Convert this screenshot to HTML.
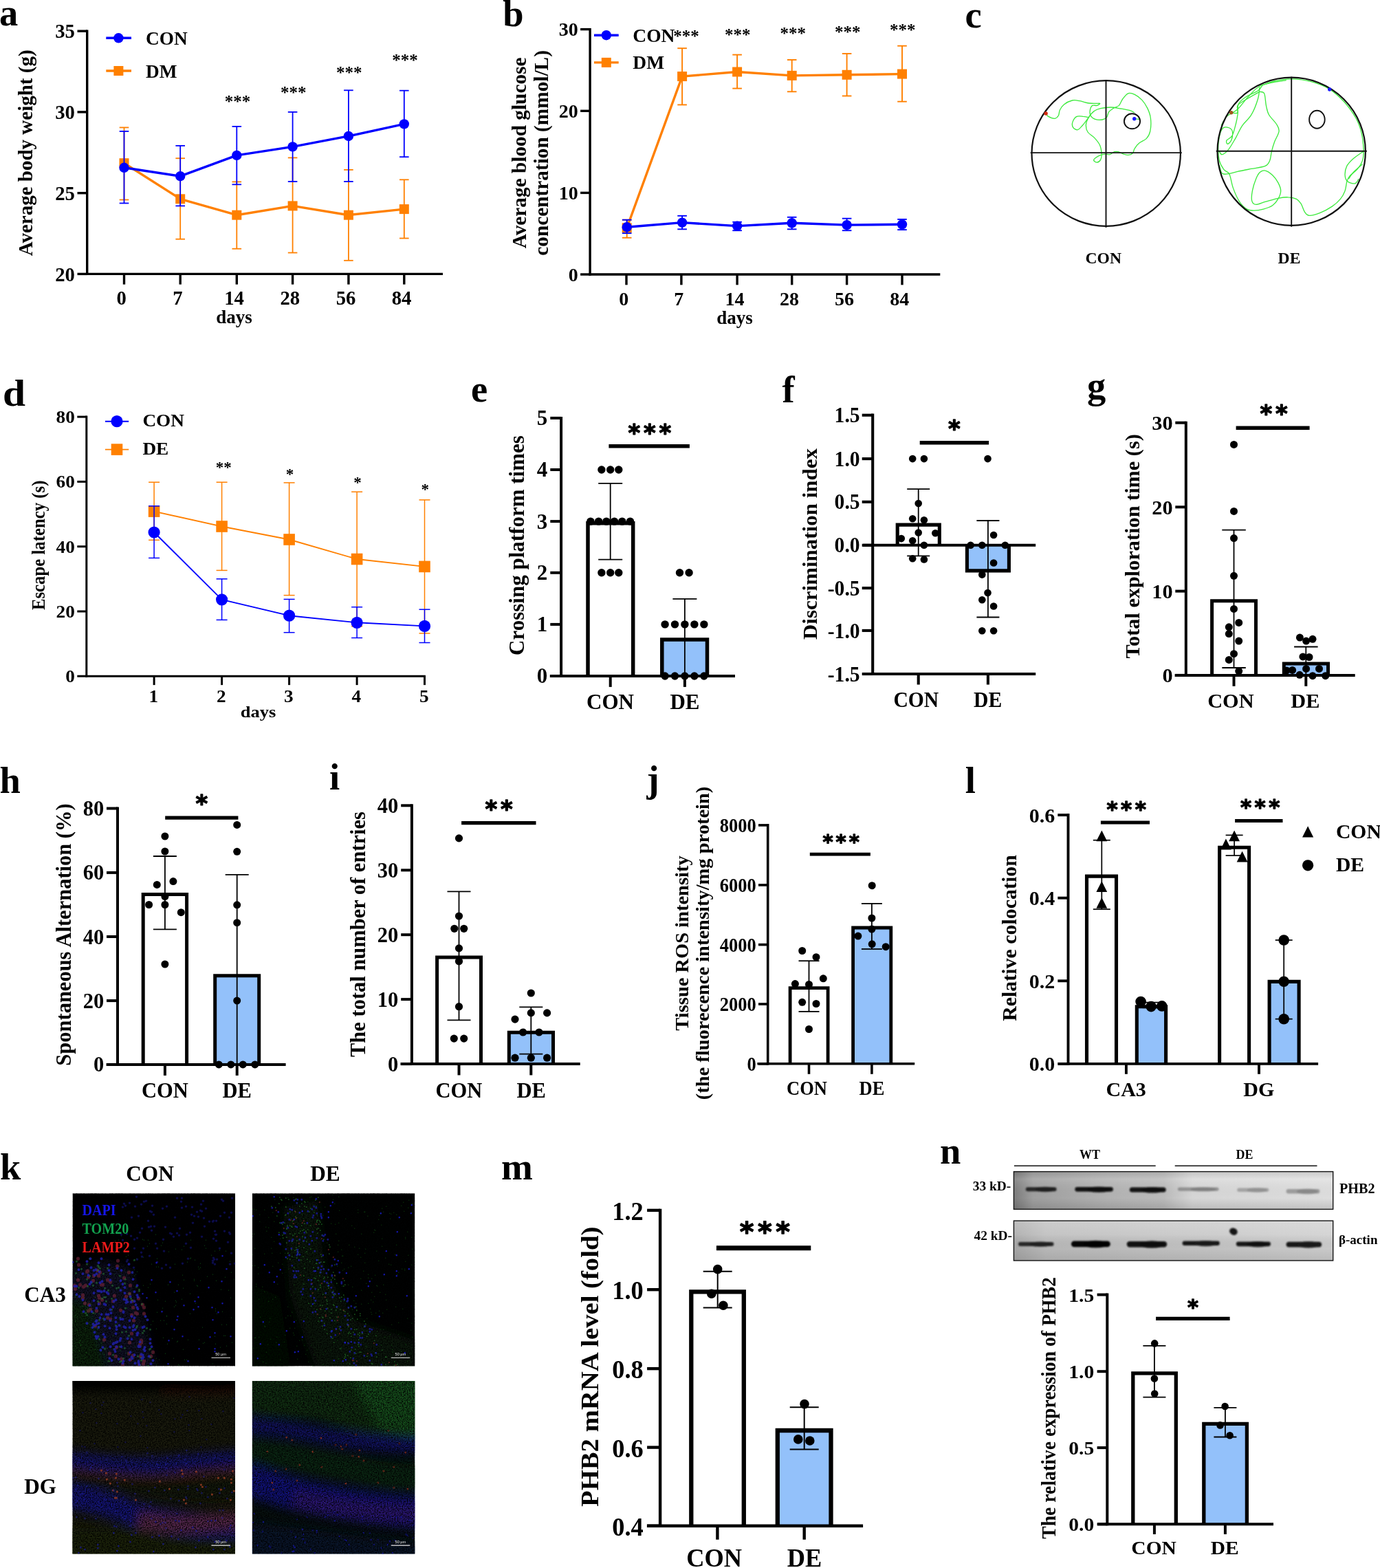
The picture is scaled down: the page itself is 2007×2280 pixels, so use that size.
<!DOCTYPE html>
<html lang="en">
<head>
<meta charset="utf-8">
<title>Figure: diabetic encephalopathy mouse model and PHB2 expression</title>
<style>
html,body{margin:0;padding:0;background:#fff;}
body{width:2007px;height:2280px;overflow:hidden;}
svg{display:block;}
svg text{font-family:"Liberation Serif","DejaVu Serif",serif;font-weight:700;fill:#000;}
</style>
</head>
<body>
<svg width="2007" height="2280" viewBox="0 0 2007 2280" role="img" aria-label="Multi-panel scientific figure">
<defs>
<clipPath id="ck"><rect x="0" y="0" width="236.6" height="251.3"/></clipPath>
<filter id="b8" x="-20%" y="-20%" width="140%" height="140%"><feGaussianBlur stdDeviation="7"/></filter>
<filter id="grain" x="0" y="0" width="100%" height="100%" color-interpolation-filters="sRGB"><feTurbulence type="fractalNoise" baseFrequency="0.55" numOctaves="2" seed="4" result="n"/><feColorMatrix in="n" type="matrix" values="0 0 0 0 0  0 0 0 0 0  0 0 0 0 0  2.2 0 0 0 -0.75"/><feComposite operator="in" in2="SourceGraphic"/></filter>
<filter id="b05" x="-5%" y="-5%" width="110%" height="110%"><feGaussianBlur stdDeviation="0.65"/></filter>
<filter id="b2" x="-10%" y="-50%" width="120%" height="200%"><feGaussianBlur stdDeviation="1.3"/></filter>
<linearGradient id="gb1" x1="0" y1="0" x2="1" y2="0"><stop offset="0" stop-color="#7e7e7e"/><stop offset="0.06" stop-color="#a2a2a2"/><stop offset="0.3" stop-color="#b6b6b6"/><stop offset="0.47" stop-color="#bebebe"/><stop offset="0.56" stop-color="#dadada"/><stop offset="1" stop-color="#e2e2e2"/></linearGradient>
<linearGradient id="gv1" x1="0" y1="0" x2="0" y2="1"><stop offset="0" stop-color="#000" stop-opacity="0.10"/><stop offset="0.2" stop-color="#fff" stop-opacity="0.10"/><stop offset="0.7" stop-color="#000" stop-opacity="0.02"/><stop offset="1" stop-color="#000" stop-opacity="0.14"/></linearGradient>
<linearGradient id="gv2" x1="0" y1="0" x2="0" y2="1"><stop offset="0" stop-color="#fff" stop-opacity="0.25"/><stop offset="0.35" stop-color="#fff" stop-opacity="0.12"/><stop offset="0.7" stop-color="#000" stop-opacity="0.03"/><stop offset="1" stop-color="#000" stop-opacity="0.10"/></linearGradient>
<linearGradient id="gb2" x1="0" y1="0" x2="1" y2="0"><stop offset="0" stop-color="#a8a8a8"/><stop offset="0.1" stop-color="#bcbcbc"/><stop offset="0.5" stop-color="#c4c4c4"/><stop offset="1" stop-color="#cfcfcf"/></linearGradient>
</defs>
<rect x="0" y="0" width="2007" height="2280" fill="#fff"/>

<g><!-- a -->
<text x="-0.9" y="36.5" font-size="54.5">a</text>
<text x="46.7" y="222.4" text-anchor="middle" font-size="29" transform="rotate(-90 46.7 222.4)">Average body weight (g)</text>
<line x1="126.7" y1="43.5" x2="126.7" y2="400.1" stroke="#000" stroke-width="3.4"/>
<line x1="112.5" y1="45.2" x2="126.7" y2="45.2" stroke="#000" stroke-width="3.4"/>
<text x="108.9" y="55.4" text-anchor="end" font-size="28.7">35</text>
<line x1="112.5" y1="162.9" x2="126.7" y2="162.9" stroke="#000" stroke-width="3.4"/>
<text x="108.9" y="173.1" text-anchor="end" font-size="28.7">30</text>
<line x1="112.5" y1="280.7" x2="126.7" y2="280.7" stroke="#000" stroke-width="3.4"/>
<text x="108.9" y="290.9" text-anchor="end" font-size="28.7">25</text>
<line x1="112.5" y1="398.4" x2="126.7" y2="398.4" stroke="#000" stroke-width="3.4"/>
<text x="108.9" y="408.6" text-anchor="end" font-size="28.7">20</text>
<line x1="125" y1="398.4" x2="644" y2="398.4" stroke="#000" stroke-width="3.4"/>
<line x1="180.5" y1="398.4" x2="180.5" y2="413.6" stroke="#000" stroke-width="3.4"/>
<text x="176.7" y="443.4" text-anchor="middle" font-size="28.7">0</text>
<line x1="262.2" y1="398.4" x2="262.2" y2="413.6" stroke="#000" stroke-width="3.4"/>
<text x="258.4" y="443.4" text-anchor="middle" font-size="28.7">7</text>
<line x1="344.3" y1="398.4" x2="344.3" y2="413.6" stroke="#000" stroke-width="3.4"/>
<text x="340.5" y="443.4" text-anchor="middle" font-size="28.7">14</text>
<line x1="425.6" y1="398.4" x2="425.6" y2="413.6" stroke="#000" stroke-width="3.4"/>
<text x="421.8" y="443.4" text-anchor="middle" font-size="28.7">28</text>
<line x1="506.9" y1="398.4" x2="506.9" y2="413.6" stroke="#000" stroke-width="3.4"/>
<text x="503.1" y="443.4" text-anchor="middle" font-size="28.7">56</text>
<line x1="587.8" y1="398.4" x2="587.8" y2="413.6" stroke="#000" stroke-width="3.4"/>
<text x="584" y="443.4" text-anchor="middle" font-size="28.7">84</text>
<text x="340.5" y="470.2" text-anchor="middle" font-size="27">days</text>
<line x1="180.5" y1="185.4" x2="180.5" y2="290.5" stroke="#ff8000" stroke-width="1.8"/>
<line x1="173.7" y1="185.4" x2="187.3" y2="185.4" stroke="#ff8000" stroke-width="1.8"/>
<line x1="173.7" y1="290.5" x2="187.3" y2="290.5" stroke="#ff8000" stroke-width="1.8"/>
<line x1="262.2" y1="230.2" x2="262.2" y2="347.7" stroke="#ff8000" stroke-width="1.8"/>
<line x1="255.4" y1="230.2" x2="269" y2="230.2" stroke="#ff8000" stroke-width="1.8"/>
<line x1="255.4" y1="347.7" x2="269" y2="347.7" stroke="#ff8000" stroke-width="1.8"/>
<line x1="344.3" y1="264.4" x2="344.3" y2="361.7" stroke="#ff8000" stroke-width="1.8"/>
<line x1="337.5" y1="264.4" x2="351.1" y2="264.4" stroke="#ff8000" stroke-width="1.8"/>
<line x1="337.5" y1="361.7" x2="351.1" y2="361.7" stroke="#ff8000" stroke-width="1.8"/>
<line x1="425.6" y1="229.4" x2="425.6" y2="367.5" stroke="#ff8000" stroke-width="1.8"/>
<line x1="418.8" y1="229.4" x2="432.4" y2="229.4" stroke="#ff8000" stroke-width="1.8"/>
<line x1="418.8" y1="367.5" x2="432.4" y2="367.5" stroke="#ff8000" stroke-width="1.8"/>
<line x1="506.9" y1="246.9" x2="506.9" y2="378.8" stroke="#ff8000" stroke-width="1.8"/>
<line x1="500.1" y1="246.9" x2="513.7" y2="246.9" stroke="#ff8000" stroke-width="1.8"/>
<line x1="500.1" y1="378.8" x2="513.7" y2="378.8" stroke="#ff8000" stroke-width="1.8"/>
<line x1="587.8" y1="261.3" x2="587.8" y2="346.5" stroke="#ff8000" stroke-width="1.8"/>
<line x1="581" y1="261.3" x2="594.6" y2="261.3" stroke="#ff8000" stroke-width="1.8"/>
<line x1="581" y1="346.5" x2="594.6" y2="346.5" stroke="#ff8000" stroke-width="1.8"/>
<polyline fill="none" stroke="#ff8000" stroke-width="3.4" stroke-linejoin="round" points="180.5,237.2 262.2,289.3 344.3,312.7 425.6,299.4 506.9,312.7 587.8,304.1"/>
<rect x="173.5" y="230.2" width="14" height="14" fill="#ff8000"/>
<rect x="255.2" y="282.3" width="14" height="14" fill="#ff8000"/>
<rect x="337.3" y="305.7" width="14" height="14" fill="#ff8000"/>
<rect x="418.6" y="292.4" width="14" height="14" fill="#ff8000"/>
<rect x="499.9" y="305.7" width="14" height="14" fill="#ff8000"/>
<rect x="580.8" y="297.1" width="14" height="14" fill="#ff8000"/>
<line x1="180.5" y1="190.9" x2="180.5" y2="295.5" stroke="#0000fe" stroke-width="1.8"/>
<line x1="173.7" y1="190.9" x2="187.3" y2="190.9" stroke="#0000fe" stroke-width="1.8"/>
<line x1="173.7" y1="295.5" x2="187.3" y2="295.5" stroke="#0000fe" stroke-width="1.8"/>
<line x1="262.2" y1="211.9" x2="262.2" y2="299.4" stroke="#0000fe" stroke-width="1.8"/>
<line x1="255.4" y1="211.9" x2="269" y2="211.9" stroke="#0000fe" stroke-width="1.8"/>
<line x1="255.4" y1="299.4" x2="269" y2="299.4" stroke="#0000fe" stroke-width="1.8"/>
<line x1="344.3" y1="183.9" x2="344.3" y2="268.3" stroke="#0000fe" stroke-width="1.8"/>
<line x1="337.5" y1="183.9" x2="351.1" y2="183.9" stroke="#0000fe" stroke-width="1.8"/>
<line x1="337.5" y1="268.3" x2="351.1" y2="268.3" stroke="#0000fe" stroke-width="1.8"/>
<line x1="425.6" y1="162.9" x2="425.6" y2="264" stroke="#0000fe" stroke-width="1.8"/>
<line x1="418.8" y1="162.9" x2="432.4" y2="162.9" stroke="#0000fe" stroke-width="1.8"/>
<line x1="418.8" y1="264" x2="432.4" y2="264" stroke="#0000fe" stroke-width="1.8"/>
<line x1="506.9" y1="131.3" x2="506.9" y2="264" stroke="#0000fe" stroke-width="1.8"/>
<line x1="500.1" y1="131.3" x2="513.7" y2="131.3" stroke="#0000fe" stroke-width="1.8"/>
<line x1="500.1" y1="264" x2="513.7" y2="264" stroke="#0000fe" stroke-width="1.8"/>
<line x1="587.8" y1="131.7" x2="587.8" y2="228.2" stroke="#0000fe" stroke-width="1.8"/>
<line x1="581" y1="131.7" x2="594.6" y2="131.7" stroke="#0000fe" stroke-width="1.8"/>
<line x1="581" y1="228.2" x2="594.6" y2="228.2" stroke="#0000fe" stroke-width="1.8"/>
<polyline fill="none" stroke="#0000fe" stroke-width="3.4" stroke-linejoin="round" points="180.5,243.8 262.2,256.2 344.3,225.9 425.6,213.4 506.9,197.9 587.8,180.4"/>
<circle cx="180.5" cy="243.8" r="7.2" fill="#0000fe"/>
<circle cx="262.2" cy="256.2" r="7.2" fill="#0000fe"/>
<circle cx="344.3" cy="225.9" r="7.2" fill="#0000fe"/>
<circle cx="425.6" cy="213.4" r="7.2" fill="#0000fe"/>
<circle cx="506.9" cy="197.9" r="7.2" fill="#0000fe"/>
<circle cx="587.8" cy="180.4" r="7.2" fill="#0000fe"/>
<line x1="154.3" y1="55.3" x2="191" y2="55.3" stroke="#0000fe" stroke-width="3.4"/>
<circle cx="172.4" cy="55.3" r="7.2" fill="#0000fe"/>
<text x="212" y="65.2" font-size="27.3">CON</text>
<line x1="154.3" y1="103" x2="191" y2="103" stroke="#ff8000" stroke-width="3.4"/>
<rect x="165.4" y="96" width="14" height="14" fill="#ff8000"/>
<text x="212" y="113.2" font-size="27.3">DM</text>
<text x="345.4" y="156.2" text-anchor="middle" font-size="25" font-weight="400">***</text>
<text x="426.8" y="143.4" text-anchor="middle" font-size="25" font-weight="400">***</text>
<text x="507.7" y="114.2" text-anchor="middle" font-size="25" font-weight="400">***</text>
<text x="589" y="95.5" text-anchor="middle" font-size="25" font-weight="400">***</text>
</g>
<g><!-- b -->
<text x="731.3" y="37.5" font-size="54.5">b</text>
<text x="765.4" y="222.4" text-anchor="middle" font-size="29.3" transform="rotate(-90 765.4 222.4)">Average blood glucose</text>
<text x="797.3" y="222.4" text-anchor="middle" font-size="29.3" transform="rotate(-90 797.3 222.4)">concentration (mmol/L)</text>
<line x1="858.1" y1="40.9" x2="858.1" y2="400.7" stroke="#000" stroke-width="3.4"/>
<line x1="844.1" y1="42.6" x2="858.1" y2="42.6" stroke="#000" stroke-width="3.4"/>
<text x="840.7" y="52.2" text-anchor="end" font-size="28">30</text>
<line x1="844.1" y1="161.3" x2="858.1" y2="161.3" stroke="#000" stroke-width="3.4"/>
<text x="840.7" y="170.9" text-anchor="end" font-size="28">20</text>
<line x1="844.1" y1="280.4" x2="858.1" y2="280.4" stroke="#000" stroke-width="3.4"/>
<text x="840.7" y="290" text-anchor="end" font-size="28">10</text>
<line x1="844.1" y1="399" x2="858.1" y2="399" stroke="#000" stroke-width="3.4"/>
<text x="840.7" y="408.6" text-anchor="end" font-size="28">0</text>
<line x1="856.4" y1="399" x2="1367.3" y2="399" stroke="#000" stroke-width="3.4"/>
<line x1="911" y1="399" x2="911" y2="414.3" stroke="#000" stroke-width="3.4"/>
<text x="907.2" y="444.3" text-anchor="middle" font-size="28">0</text>
<line x1="990.9" y1="399" x2="990.9" y2="414.3" stroke="#000" stroke-width="3.4"/>
<text x="987.2" y="444.3" text-anchor="middle" font-size="28">7</text>
<line x1="1072.1" y1="399" x2="1072.1" y2="414.3" stroke="#000" stroke-width="3.4"/>
<text x="1068.4" y="444.3" text-anchor="middle" font-size="28">14</text>
<line x1="1151.7" y1="399" x2="1151.7" y2="414.3" stroke="#000" stroke-width="3.4"/>
<text x="1148" y="444.3" text-anchor="middle" font-size="28">28</text>
<line x1="1231.6" y1="399" x2="1231.6" y2="414.3" stroke="#000" stroke-width="3.4"/>
<text x="1227.9" y="444.3" text-anchor="middle" font-size="28">56</text>
<line x1="1312" y1="399" x2="1312" y2="414.3" stroke="#000" stroke-width="3.4"/>
<text x="1308.3" y="444.3" text-anchor="middle" font-size="28">84</text>
<text x="1068.5" y="471.4" text-anchor="middle" font-size="27">days</text>
<line x1="911.7" y1="319.7" x2="911.7" y2="345.7" stroke="#ff8000" stroke-width="1.9"/>
<line x1="904.9" y1="319.7" x2="918.5" y2="319.7" stroke="#ff8000" stroke-width="1.9"/>
<line x1="904.9" y1="345.7" x2="918.5" y2="345.7" stroke="#ff8000" stroke-width="1.9"/>
<line x1="992.1" y1="70.2" x2="992.1" y2="152.4" stroke="#ff8000" stroke-width="1.9"/>
<line x1="985.3" y1="70.2" x2="998.9" y2="70.2" stroke="#ff8000" stroke-width="1.9"/>
<line x1="985.3" y1="152.4" x2="998.9" y2="152.4" stroke="#ff8000" stroke-width="1.9"/>
<line x1="1072.1" y1="79.6" x2="1072.1" y2="128.6" stroke="#ff8000" stroke-width="1.9"/>
<line x1="1065.3" y1="79.6" x2="1078.9" y2="79.6" stroke="#ff8000" stroke-width="1.9"/>
<line x1="1065.3" y1="128.6" x2="1078.9" y2="128.6" stroke="#ff8000" stroke-width="1.9"/>
<line x1="1151.7" y1="87" x2="1151.7" y2="133.3" stroke="#ff8000" stroke-width="1.9"/>
<line x1="1144.9" y1="87" x2="1158.5" y2="87" stroke="#ff8000" stroke-width="1.9"/>
<line x1="1144.9" y1="133.3" x2="1158.5" y2="133.3" stroke="#ff8000" stroke-width="1.9"/>
<line x1="1231.6" y1="78" x2="1231.6" y2="139.5" stroke="#ff8000" stroke-width="1.9"/>
<line x1="1224.8" y1="78" x2="1238.4" y2="78" stroke="#ff8000" stroke-width="1.9"/>
<line x1="1224.8" y1="139.5" x2="1238.4" y2="139.5" stroke="#ff8000" stroke-width="1.9"/>
<line x1="1312" y1="66.7" x2="1312" y2="147.7" stroke="#ff8000" stroke-width="1.9"/>
<line x1="1305.2" y1="66.7" x2="1318.8" y2="66.7" stroke="#ff8000" stroke-width="1.9"/>
<line x1="1305.2" y1="147.7" x2="1318.8" y2="147.7" stroke="#ff8000" stroke-width="1.9"/>
<polyline fill="none" stroke="#ff8000" stroke-width="3.4" stroke-linejoin="round" points="911.7,331.3 992.1,111.1 1072.1,104.5 1151.7,109.9 1231.6,108.8 1312.0,107.6"/>
<rect x="904.7" y="324.3" width="14" height="14" fill="#ff8000"/>
<rect x="985.1" y="104.1" width="14" height="14" fill="#ff8000"/>
<rect x="1065.1" y="97.5" width="14" height="14" fill="#ff8000"/>
<rect x="1144.7" y="102.9" width="14" height="14" fill="#ff8000"/>
<rect x="1224.6" y="101.8" width="14" height="14" fill="#ff8000"/>
<rect x="1305" y="100.6" width="14" height="14" fill="#ff8000"/>
<line x1="911.7" y1="319.7" x2="911.7" y2="339.1" stroke="#0000fe" stroke-width="1.9"/>
<line x1="904.9" y1="319.7" x2="918.5" y2="319.7" stroke="#0000fe" stroke-width="1.9"/>
<line x1="904.9" y1="339.1" x2="918.5" y2="339.1" stroke="#0000fe" stroke-width="1.9"/>
<line x1="992.1" y1="313.8" x2="992.1" y2="333.3" stroke="#0000fe" stroke-width="1.9"/>
<line x1="985.3" y1="313.8" x2="998.9" y2="313.8" stroke="#0000fe" stroke-width="1.9"/>
<line x1="985.3" y1="333.3" x2="998.9" y2="333.3" stroke="#0000fe" stroke-width="1.9"/>
<line x1="1072.1" y1="322.8" x2="1072.1" y2="335.2" stroke="#0000fe" stroke-width="1.9"/>
<line x1="1065.3" y1="322.8" x2="1078.9" y2="322.8" stroke="#0000fe" stroke-width="1.9"/>
<line x1="1065.3" y1="335.2" x2="1078.9" y2="335.2" stroke="#0000fe" stroke-width="1.9"/>
<line x1="1151.7" y1="315.8" x2="1151.7" y2="333.3" stroke="#0000fe" stroke-width="1.9"/>
<line x1="1144.9" y1="315.8" x2="1158.5" y2="315.8" stroke="#0000fe" stroke-width="1.9"/>
<line x1="1144.9" y1="333.3" x2="1158.5" y2="333.3" stroke="#0000fe" stroke-width="1.9"/>
<line x1="1231.6" y1="317.7" x2="1231.6" y2="335.2" stroke="#0000fe" stroke-width="1.9"/>
<line x1="1224.8" y1="317.7" x2="1238.4" y2="317.7" stroke="#0000fe" stroke-width="1.9"/>
<line x1="1224.8" y1="335.2" x2="1238.4" y2="335.2" stroke="#0000fe" stroke-width="1.9"/>
<line x1="1312" y1="318.9" x2="1312" y2="334.1" stroke="#0000fe" stroke-width="1.9"/>
<line x1="1305.2" y1="318.9" x2="1318.8" y2="318.9" stroke="#0000fe" stroke-width="1.9"/>
<line x1="1305.2" y1="334.1" x2="1318.8" y2="334.1" stroke="#0000fe" stroke-width="1.9"/>
<polyline fill="none" stroke="#0000fe" stroke-width="3.4" stroke-linejoin="round" points="911.7,330.2 992.1,323.6 1072.1,328.6 1151.7,324.3 1231.6,327.1 1312.0,326.3"/>
<circle cx="911.7" cy="330.2" r="7.2" fill="#0000fe"/>
<circle cx="992.1" cy="323.6" r="7.2" fill="#0000fe"/>
<circle cx="1072.1" cy="328.6" r="7.2" fill="#0000fe"/>
<circle cx="1151.7" cy="324.3" r="7.2" fill="#0000fe"/>
<circle cx="1231.6" cy="327.1" r="7.2" fill="#0000fe"/>
<circle cx="1312" cy="326.3" r="7.2" fill="#0000fe"/>
<line x1="864" y1="51.2" x2="899.7" y2="51.2" stroke="#0000fe" stroke-width="3.4"/>
<circle cx="881.8" cy="51.2" r="7.2" fill="#0000fe"/>
<text x="920.3" y="60.9" font-size="27.5">CON</text>
<line x1="864" y1="90.9" x2="899.7" y2="90.9" stroke="#ff8000" stroke-width="3.4"/>
<rect x="874.8" y="83.9" width="14" height="14" fill="#ff8000"/>
<text x="920.3" y="99.8" font-size="27.5">DM</text>
<text x="997.9" y="60.9" text-anchor="middle" font-size="25" font-weight="400">***</text>
<text x="1072.8" y="59" text-anchor="middle" font-size="25" font-weight="400">***</text>
<text x="1153.2" y="57" text-anchor="middle" font-size="25" font-weight="400">***</text>
<text x="1232.8" y="55.1" text-anchor="middle" font-size="25" font-weight="400">***</text>
<text x="1312.8" y="51.6" text-anchor="middle" font-size="25" font-weight="400">***</text>
</g>
<g><!-- c -->
<text x="1403.5" y="39.9" font-size="54.5">c</text>
<path d="M1521.1 165.0C1521.7 165.7 1522.5 168.1 1524.7 169.4C1526.8 170.6 1531.6 172.5 1534.0 172.3C1536.5 172.1 1538.1 170.1 1539.4 168.0C1540.6 166.0 1540.0 162.7 1541.4 160.0C1542.7 157.4 1544.4 154.4 1547.4 152.0C1550.4 149.7 1555.6 146.9 1559.4 146.0C1563.2 145.1 1566.0 146.0 1570.0 146.7C1574.0 147.4 1579.4 149.4 1583.4 150.0C1587.4 150.6 1591.3 150.4 1594.1 150.4C1596.8 150.5 1599.4 149.9 1599.7 150.4C1599.9 150.9 1597.2 152.9 1595.4 153.4C1593.6 153.9 1590.4 152.3 1588.7 153.4C1587.1 154.5 1585.8 157.6 1585.4 160.0C1584.9 162.5 1584.8 165.8 1586.1 168.0C1587.3 170.3 1589.8 172.4 1592.7 173.4C1595.6 174.4 1600.6 174.5 1603.4 174.0C1606.2 173.6 1607.8 172.6 1609.4 170.7C1611.0 168.8 1611.1 164.9 1612.7 162.7C1614.4 160.5 1617.0 158.9 1619.4 157.4C1621.8 155.8 1625.2 155.6 1627.4 153.4C1629.6 151.1 1630.5 147.0 1632.7 144.0C1635.0 141.1 1637.9 136.9 1640.7 135.8C1643.6 134.6 1646.8 135.8 1650.1 137.4C1653.4 139.0 1657.6 142.0 1660.8 145.4C1663.9 148.7 1666.6 152.9 1668.8 157.4C1670.9 161.8 1672.8 166.5 1673.4 172.0C1674.1 177.6 1673.8 185.8 1672.8 190.7C1671.8 195.6 1670.1 198.5 1667.4 201.4C1664.8 204.3 1659.6 205.6 1656.8 208.1C1653.9 210.5 1651.6 213.6 1650.1 216.1C1648.5 218.5 1649.0 221.2 1647.4 222.7C1645.9 224.3 1643.0 225.2 1640.7 225.4C1638.5 225.6 1636.5 224.8 1634.1 224.1C1631.6 223.3 1628.3 221.3 1626.1 220.7C1623.8 220.2 1622.7 220.1 1620.7 220.7C1618.7 221.4 1616.3 224.2 1614.1 224.7C1611.8 225.3 1609.6 224.0 1607.4 224.1C1605.2 224.2 1603.2 224.4 1600.7 225.4C1598.3 226.4 1594.4 228.7 1592.7 230.1C1591.1 231.4 1590.3 232.4 1590.7 233.4C1591.2 234.4 1593.7 236.3 1595.4 236.1C1597.1 235.9 1599.6 234.3 1600.7 232.1C1601.8 229.8 1602.3 226.3 1602.1 222.7C1601.8 219.2 1601.2 214.5 1599.4 210.7C1597.6 206.9 1594.3 203.2 1591.4 200.1C1588.5 196.9 1584.1 195.2 1582.0 192.0C1580.0 188.9 1579.2 184.9 1579.4 181.4C1579.6 177.8 1581.4 174.0 1583.4 170.7C1585.4 167.4 1588.5 163.5 1591.4 161.4C1594.3 159.2 1596.7 158.5 1600.7 157.6C1604.7 156.7 1610.5 156.0 1615.4 156.0C1620.3 156.1 1625.4 157.3 1630.1 158.0C1634.7 158.8 1640.1 159.7 1643.4 160.7C1646.8 161.7 1649.0 163.5 1650.1 164.0" fill="none" stroke="#3bea3b" stroke-width="1.3"/>
<path d="M1586.1 166.7C1584.9 168.3 1581.4 173.4 1579.4 176.0C1577.4 178.7 1576.0 180.6 1574.0 182.7C1572.0 184.8 1569.6 188.3 1567.4 188.7C1565.2 189.2 1561.9 187.3 1560.7 185.4C1559.5 183.5 1559.1 180.0 1560.0 177.4C1560.9 174.7 1563.5 170.7 1566.0 169.4C1568.6 168.0 1572.5 169.1 1575.4 169.4C1578.3 169.6 1582.0 170.5 1583.4 170.7" fill="none" stroke="#3bea3b" stroke-width="1.3"/>
<path d="M1649.7 172.7C1650.9 172.8 1655.6 173.3 1656.8 173.4" fill="none" stroke="#3bea3b" stroke-width="1.3"/>
<ellipse cx="1608.7" cy="223.0" rx="108.2" ry="105.8" fill="none" stroke="#111" stroke-width="2.2"/>
<line x1="1608.5" y1="116.3" x2="1608.5" y2="330.8" stroke="#111" stroke-width="1.9"/>
<line x1="1498.7" y1="222.1" x2="1718.8" y2="222.1" stroke="#111" stroke-width="1.9"/>
<ellipse cx="1646.5" cy="176.3" rx="11.6" ry="11" fill="none" stroke="#111" stroke-width="1.9"/>
<circle cx="1649.7" cy="172.7" r="2.7" fill="#1a1aff"/>
<circle cx="1521.1" cy="165" r="2.7" fill="#d42a10"/>
<path d="M1836.0 124.0C1838.9 123.0 1846.4 119.5 1853.4 118.0C1860.4 116.5 1869.3 114.8 1878.2 114.9C1887.1 115.1 1897.5 116.2 1906.7 118.7C1915.9 121.1 1925.4 124.7 1933.4 129.6C1941.4 134.5 1948.3 141.0 1954.8 148.0C1961.2 155.1 1967.9 164.5 1972.1 172.0C1976.3 179.6 1978.3 185.8 1980.1 193.4C1981.9 200.9 1982.8 210.7 1983.1 217.4C1983.3 224.1 1983.1 228.5 1981.5 233.4C1979.9 238.3 1976.6 243.0 1973.4 246.7C1970.3 250.5 1965.2 253.2 1962.8 256.1C1960.3 259.0 1959.9 260.5 1958.8 264.1C1957.7 267.6 1957.7 273.2 1956.1 277.4C1954.5 281.7 1952.5 285.7 1949.4 289.4C1946.3 293.2 1942.3 296.8 1937.4 300.1C1932.5 303.4 1925.6 307.2 1920.1 309.4C1914.5 311.7 1907.9 313.7 1904.1 313.4C1900.3 313.2 1899.4 311.0 1897.4 308.1C1895.4 305.2 1894.1 299.2 1892.1 296.1C1890.1 293.0 1888.5 291.0 1885.4 289.4C1882.3 287.9 1877.6 287.0 1873.4 286.8C1869.2 286.5 1865.6 287.0 1860.1 288.1C1854.5 289.2 1845.6 291.9 1840.0 293.4C1834.5 295.0 1829.9 297.7 1826.7 297.4C1823.5 297.2 1821.6 295.4 1820.7 292.1C1819.8 288.8 1820.4 282.8 1821.4 277.4C1822.4 272.1 1824.9 264.5 1826.7 260.1C1828.5 255.6 1829.8 252.7 1832.0 250.7C1834.3 248.7 1836.9 247.4 1840.0 248.1C1843.2 248.7 1847.6 251.9 1850.7 254.7C1853.8 257.6 1856.7 261.6 1858.7 265.4C1860.7 269.2 1862.7 273.4 1862.7 277.4C1862.7 281.4 1860.7 285.9 1858.7 289.4C1856.7 293.0 1854.3 296.3 1850.7 298.8C1847.2 301.2 1841.8 302.9 1837.4 304.1C1832.9 305.3 1828.0 306.1 1824.0 306.1C1820.0 306.1 1816.9 306.2 1813.4 304.1C1809.8 302.0 1806.0 298.6 1802.7 293.4C1799.4 288.3 1795.8 280.1 1793.4 273.4C1790.9 266.8 1790.2 257.9 1788.0 253.4C1785.8 249.0 1782.5 250.1 1780.0 246.7C1777.6 243.4 1774.7 239.0 1773.3 233.4C1772.0 227.8 1771.5 220.1 1771.7 213.4C1772.0 206.7 1773.3 198.1 1774.7 193.4C1776.1 188.7 1777.6 186.5 1780.0 185.4C1782.5 184.3 1787.2 185.4 1789.3 186.7C1791.5 188.0 1792.5 190.5 1792.7 193.4C1792.9 196.3 1791.9 201.4 1790.7 204.1C1789.5 206.7 1786.5 209.4 1785.3 209.4C1784.2 209.4 1782.9 206.1 1784.0 204.1C1785.1 202.1 1789.8 201.4 1792.0 197.4C1794.2 193.4 1796.0 185.2 1797.4 180.0C1798.7 174.9 1799.4 171.6 1800.0 166.7C1800.7 161.8 1799.1 155.1 1801.4 150.7C1803.6 146.2 1808.7 143.1 1813.4 140.0C1818.0 136.9 1825.6 134.7 1829.4 132.0C1833.2 129.3 1834.9 125.3 1836.0 124.0" fill="none" stroke="#3bea3b" stroke-width="1.3"/>
<path d="M1832.0 126.7C1831.6 129.6 1831.4 137.4 1829.4 144.0C1827.4 150.7 1823.8 160.3 1820.0 166.7C1816.3 173.2 1810.5 177.2 1806.7 182.7C1802.9 188.3 1800.7 194.3 1797.4 200.1C1794.0 205.8 1790.0 213.3 1786.7 217.4C1783.3 221.5 1779.6 224.3 1777.3 224.7C1775.1 225.2 1774.0 220.8 1773.3 220.1" fill="none" stroke="#3bea3b" stroke-width="1.3"/>
<path d="M1832.0 133.4C1833.2 133.8 1837.2 132.7 1838.7 136.0C1840.3 139.4 1840.3 148.2 1841.4 153.4C1842.5 158.5 1842.9 162.3 1845.4 166.7C1847.8 171.1 1853.6 176.0 1856.1 180.0C1858.5 184.0 1860.5 186.3 1860.1 190.7C1859.6 195.2 1855.2 201.8 1853.4 206.7C1851.6 211.6 1850.5 215.6 1849.4 220.1C1848.3 224.5 1848.3 229.8 1846.7 233.4C1845.2 237.0 1844.5 239.4 1840.0 241.4C1835.6 243.4 1826.7 244.1 1820.0 245.4C1813.4 246.7 1805.6 248.2 1800.0 249.4C1794.5 250.6 1790.5 252.3 1786.7 252.7C1782.9 253.2 1779.6 254.2 1777.3 252.1C1775.1 250.0 1774.0 242.1 1773.3 240.1" fill="none" stroke="#3bea3b" stroke-width="1.3"/>
<path d="M1982.8 220.1C1980.3 221.8 1972.1 227.2 1968.1 230.7C1964.1 234.3 1960.8 237.4 1958.8 241.4C1956.8 245.4 1955.9 251.0 1956.1 254.7C1956.3 258.5 1957.7 262.1 1960.1 264.1C1962.6 266.1 1968.1 267.4 1970.8 266.8C1973.4 266.1 1975.2 261.2 1976.1 260.1" fill="none" stroke="#3bea3b" stroke-width="1.3"/>
<path d="M1981.5 238.7C1979.2 240.7 1971.4 247.2 1968.1 250.7C1964.8 254.3 1962.6 258.5 1961.4 260.1" fill="none" stroke="#3bea3b" stroke-width="1.3"/>
<path d="M1790.7 163.8C1792.2 163.8 1798.5 165.8 1800.0 164.0C1801.6 162.3 1797.8 156.7 1800.0 153.4C1802.2 150.0 1808.0 147.4 1813.4 144.0C1818.7 140.7 1828.9 135.1 1832.0 133.4" fill="none" stroke="#3bea3b" stroke-width="1.3"/>
<path d="M1776.0 182.7C1777.3 180.5 1780.0 173.4 1784.0 169.4C1788.0 165.4 1794.7 163.6 1800.0 158.7C1805.4 153.8 1810.2 145.8 1816.0 140.0C1821.8 134.2 1825.6 127.9 1834.7 124.0C1843.8 120.1 1864.7 117.9 1870.7 116.7" fill="none" stroke="#3bea3b" stroke-width="1.3"/>
<ellipse cx="1878.2" cy="220.3" rx="107.7" ry="107.6" fill="none" stroke="#111" stroke-width="2.2"/>
<line x1="1878.2" y1="111.7" x2="1878.2" y2="329.7" stroke="#111" stroke-width="1.9"/>
<line x1="1768.7" y1="219.7" x2="1987.9" y2="219.7" stroke="#111" stroke-width="1.9"/>
<ellipse cx="1915.4" cy="173.8" rx="11.3" ry="13" fill="none" stroke="#111" stroke-width="1.9"/>
<circle cx="1933.7" cy="130" r="2.7" fill="#1a1aff"/>
<circle cx="1790.7" cy="163.8" r="2.7" fill="#a0551a"/>
<text x="1604.8" y="382.7" text-anchor="middle" font-size="23.6">CON</text>
<text x="1875" y="382.7" text-anchor="middle" font-size="23.6">DE</text>
</g>
<g><!-- d -->
<text transform="translate(4.1 590.2) scale(1.100 1)" font-size="54">d</text>
<text transform="translate(65 792.8) scale(1.100 1) rotate(-90)" text-anchor="middle" font-size="24.8">Escape latency (s)</text>
<line x1="125.8" y1="604.6" x2="125.8" y2="984.8" stroke="#000" stroke-width="3"/>
<line x1="112.3" y1="606.1" x2="125.8" y2="606.1" stroke="#000" stroke-width="3"/>
<text transform="translate(108.8 615.1) scale(1.100 1)" text-anchor="end" font-size="24.8">80</text>
<line x1="112.3" y1="700.4" x2="125.8" y2="700.4" stroke="#000" stroke-width="3"/>
<text transform="translate(108.8 709.4) scale(1.100 1)" text-anchor="end" font-size="24.8">60</text>
<line x1="112.3" y1="794.7" x2="125.8" y2="794.7" stroke="#000" stroke-width="3"/>
<text transform="translate(108.8 803.8) scale(1.100 1)" text-anchor="end" font-size="24.8">40</text>
<line x1="112.3" y1="889" x2="125.8" y2="889" stroke="#000" stroke-width="3"/>
<text transform="translate(108.8 898) scale(1.100 1)" text-anchor="end" font-size="24.8">20</text>
<line x1="112.3" y1="983.2" x2="125.8" y2="983.2" stroke="#000" stroke-width="3"/>
<text transform="translate(108.8 992.3) scale(1.100 1)" text-anchor="end" font-size="24.8">0</text>
<line x1="124.2" y1="983.2" x2="618.9" y2="983.2" stroke="#000" stroke-width="3"/>
<line x1="224.1" y1="983.2" x2="224.1" y2="996.1" stroke="#000" stroke-width="3"/>
<text transform="translate(223.4 1021) scale(1.100 1)" text-anchor="middle" font-size="24.8">1</text>
<line x1="322.6" y1="983.2" x2="322.6" y2="996.1" stroke="#000" stroke-width="3"/>
<text transform="translate(321.9 1021) scale(1.100 1)" text-anchor="middle" font-size="24.8">2</text>
<line x1="420.6" y1="983.2" x2="420.6" y2="996.1" stroke="#000" stroke-width="3"/>
<text transform="translate(419.9 1021) scale(1.100 1)" text-anchor="middle" font-size="24.8">3</text>
<line x1="519.1" y1="983.2" x2="519.1" y2="996.1" stroke="#000" stroke-width="3"/>
<text transform="translate(518.4 1021) scale(1.100 1)" text-anchor="middle" font-size="24.8">4</text>
<line x1="617.5" y1="983.2" x2="617.5" y2="996.1" stroke="#000" stroke-width="3"/>
<text transform="translate(616.8 1021) scale(1.100 1)" text-anchor="middle" font-size="24.8">5</text>
<text transform="translate(375.5 1042.8) scale(1.100 1)" text-anchor="middle" font-size="24.1">days</text>
<line x1="224.1" y1="701.2" x2="224.1" y2="785.3" stroke="#ff8000" stroke-width="1.5"/>
<line x1="216.1" y1="701.2" x2="232.1" y2="701.2" stroke="#ff8000" stroke-width="1.5"/>
<line x1="216.1" y1="785.3" x2="232.1" y2="785.3" stroke="#ff8000" stroke-width="1.5"/>
<line x1="322.6" y1="701.2" x2="322.6" y2="829.4" stroke="#ff8000" stroke-width="1.5"/>
<line x1="314.6" y1="701.2" x2="330.6" y2="701.2" stroke="#ff8000" stroke-width="1.5"/>
<line x1="314.6" y1="829.4" x2="330.6" y2="829.4" stroke="#ff8000" stroke-width="1.5"/>
<line x1="420.6" y1="701.9" x2="420.6" y2="865.6" stroke="#ff8000" stroke-width="1.5"/>
<line x1="412.6" y1="701.9" x2="428.6" y2="701.9" stroke="#ff8000" stroke-width="1.5"/>
<line x1="412.6" y1="865.6" x2="428.6" y2="865.6" stroke="#ff8000" stroke-width="1.5"/>
<line x1="519.1" y1="715.2" x2="519.1" y2="910.8" stroke="#ff8000" stroke-width="1.5"/>
<line x1="511.1" y1="715.2" x2="527.1" y2="715.2" stroke="#ff8000" stroke-width="1.5"/>
<line x1="511.1" y1="910.8" x2="527.1" y2="910.8" stroke="#ff8000" stroke-width="1.5"/>
<line x1="617.5" y1="726.9" x2="617.5" y2="920.9" stroke="#ff8000" stroke-width="1.5"/>
<line x1="609.5" y1="726.9" x2="625.5" y2="726.9" stroke="#ff8000" stroke-width="1.5"/>
<line x1="609.5" y1="920.9" x2="625.5" y2="920.9" stroke="#ff8000" stroke-width="1.5"/>
<polyline fill="none" stroke="#ff8000" stroke-width="1.9" stroke-linejoin="round" points="224.1,743.6 322.6,765.5 420.6,784.5 519.1,813.0 617.5,823.9"/>
<rect x="215.8" y="735.3" width="16.6" height="16.6" fill="#ff8000"/>
<rect x="314.3" y="757.2" width="16.6" height="16.6" fill="#ff8000"/>
<rect x="412.3" y="776.2" width="16.6" height="16.6" fill="#ff8000"/>
<rect x="510.8" y="804.7" width="16.6" height="16.6" fill="#ff8000"/>
<rect x="609.2" y="815.6" width="16.6" height="16.6" fill="#ff8000"/>
<line x1="224.1" y1="735.8" x2="224.1" y2="811.4" stroke="#0000fe" stroke-width="1.5"/>
<line x1="216.1" y1="735.8" x2="232.1" y2="735.8" stroke="#0000fe" stroke-width="1.5"/>
<line x1="216.1" y1="811.4" x2="232.1" y2="811.4" stroke="#0000fe" stroke-width="1.5"/>
<line x1="322.6" y1="841.8" x2="322.6" y2="901.4" stroke="#0000fe" stroke-width="1.5"/>
<line x1="314.6" y1="841.8" x2="330.6" y2="841.8" stroke="#0000fe" stroke-width="1.5"/>
<line x1="314.6" y1="901.4" x2="330.6" y2="901.4" stroke="#0000fe" stroke-width="1.5"/>
<line x1="420.6" y1="871.4" x2="420.6" y2="919.7" stroke="#0000fe" stroke-width="1.5"/>
<line x1="412.6" y1="871.4" x2="428.6" y2="871.4" stroke="#0000fe" stroke-width="1.5"/>
<line x1="412.6" y1="919.7" x2="428.6" y2="919.7" stroke="#0000fe" stroke-width="1.5"/>
<line x1="519.1" y1="882.7" x2="519.1" y2="927.5" stroke="#0000fe" stroke-width="1.5"/>
<line x1="511.1" y1="882.7" x2="527.1" y2="882.7" stroke="#0000fe" stroke-width="1.5"/>
<line x1="511.1" y1="927.5" x2="527.1" y2="927.5" stroke="#0000fe" stroke-width="1.5"/>
<line x1="617.5" y1="886.2" x2="617.5" y2="934.5" stroke="#0000fe" stroke-width="1.5"/>
<line x1="609.5" y1="886.2" x2="625.5" y2="886.2" stroke="#0000fe" stroke-width="1.5"/>
<line x1="609.5" y1="934.5" x2="625.5" y2="934.5" stroke="#0000fe" stroke-width="1.5"/>
<polyline fill="none" stroke="#0000fe" stroke-width="1.9" stroke-linejoin="round" points="224.1,774.0 322.6,871.8 420.6,895.2 519.1,905.3 617.5,910.4"/>
<circle cx="224.1" cy="774" r="8.6" fill="#0000fe"/>
<circle cx="322.6" cy="871.8" r="8.6" fill="#0000fe"/>
<circle cx="420.6" cy="895.2" r="8.6" fill="#0000fe"/>
<circle cx="519.1" cy="905.3" r="8.6" fill="#0000fe"/>
<circle cx="617.5" cy="910.4" r="8.6" fill="#0000fe"/>
<line x1="152.9" y1="612.7" x2="187.2" y2="612.7" stroke="#0000fe" stroke-width="1.9"/>
<circle cx="170" cy="612.7" r="8.6" fill="#0000fe"/>
<text transform="translate(207.4 620.4) scale(1.100 1)" font-size="24.8">CON</text>
<line x1="152.9" y1="653.6" x2="187.2" y2="653.6" stroke="#ff8000" stroke-width="1.9"/>
<rect x="161.7" y="645.3" width="16.6" height="16.6" fill="#ff8000"/>
<text transform="translate(207.4 661.3) scale(1.100 1)" font-size="24.8">DE</text>
<text x="325.3" y="687" text-anchor="middle" font-size="23" font-weight="400">**</text>
<text x="421.4" y="696.8" text-anchor="middle" font-size="23" font-weight="400">*</text>
<text x="519.9" y="708.8" text-anchor="middle" font-size="23" font-weight="400">*</text>
<text x="618.3" y="719.3" text-anchor="middle" font-size="23" font-weight="400">*</text>
</g>
<g><!-- e -->
<text x="684.9" y="584.1" font-size="54.5">e</text>
<text x="762" y="793" text-anchor="middle" font-size="31" transform="rotate(-90 762 793)">Crossing platform times</text>
<path d="M855 983L855 760.8L920.7 760.8L920.7 983" fill="#fff" stroke="#000" stroke-width="5.5" stroke-linejoin="miter"/>
<path d="M962.8 983L962.8 930.1L1028.5 930.1L1028.5 983" fill="#93c1fa" stroke="#000" stroke-width="5.5" stroke-linejoin="miter"/>
<line x1="816.1" y1="605.9" x2="816.1" y2="985" stroke="#000" stroke-width="4"/>
<line x1="800.3" y1="607.9" x2="816.1" y2="607.9" stroke="#000" stroke-width="4"/>
<text x="796.3" y="618.3" text-anchor="end" font-size="31">5</text>
<line x1="800.3" y1="683" x2="816.1" y2="683" stroke="#000" stroke-width="4"/>
<text x="796.3" y="693.4" text-anchor="end" font-size="31">4</text>
<line x1="800.3" y1="758.1" x2="816.1" y2="758.1" stroke="#000" stroke-width="4"/>
<text x="796.3" y="768.5" text-anchor="end" font-size="31">3</text>
<line x1="800.3" y1="832.8" x2="816.1" y2="832.8" stroke="#000" stroke-width="4"/>
<text x="796.3" y="843.2" text-anchor="end" font-size="31">2</text>
<line x1="800.3" y1="907.9" x2="816.1" y2="907.9" stroke="#000" stroke-width="4"/>
<text x="796.3" y="918.3" text-anchor="end" font-size="31">1</text>
<line x1="800.3" y1="983" x2="816.1" y2="983" stroke="#000" stroke-width="4"/>
<text x="796.3" y="993.4" text-anchor="end" font-size="31">0</text>
<line x1="799.8" y1="983" x2="1069" y2="983" stroke="#000" stroke-width="4"/>
<line x1="887.7" y1="983" x2="887.7" y2="998.9" stroke="#000" stroke-width="4"/>
<line x1="995.9" y1="983" x2="995.9" y2="998.9" stroke="#000" stroke-width="4"/>
<line x1="887.7" y1="702.8" x2="887.7" y2="813.7" stroke="#000" stroke-width="1.8"/>
<line x1="870.2" y1="702.8" x2="905.2" y2="702.8" stroke="#000" stroke-width="1.8"/>
<line x1="870.2" y1="813.7" x2="905.2" y2="813.7" stroke="#000" stroke-width="1.8"/>
<line x1="995.9" y1="870.9" x2="995.9" y2="983" stroke="#000" stroke-width="1.8"/>
<line x1="978.4" y1="870.9" x2="1013.4" y2="870.9" stroke="#000" stroke-width="1.8"/>
<line x1="978.4" y1="983" x2="1013.4" y2="983" stroke="#000" stroke-width="1.8"/>
<circle cx="874.9" cy="683" r="5.7" fill="#000"/>
<circle cx="887.7" cy="683" r="5.7" fill="#000"/>
<circle cx="899.8" cy="683" r="5.7" fill="#000"/>
<circle cx="858.9" cy="758.1" r="5.7" fill="#000"/>
<circle cx="870.6" cy="758.1" r="5.7" fill="#000"/>
<circle cx="881.9" cy="758.1" r="5.7" fill="#000"/>
<circle cx="893.5" cy="758.1" r="5.7" fill="#000"/>
<circle cx="904.8" cy="758.1" r="5.7" fill="#000"/>
<circle cx="916.5" cy="758.1" r="5.7" fill="#000"/>
<circle cx="874.9" cy="832.8" r="5.7" fill="#000"/>
<circle cx="887.7" cy="832.8" r="5.7" fill="#000"/>
<circle cx="899.8" cy="832.8" r="5.7" fill="#000"/>
<circle cx="988.5" cy="832.8" r="5.7" fill="#000"/>
<circle cx="1002.1" cy="832.8" r="5.7" fill="#000"/>
<circle cx="967.1" cy="907.9" r="5.7" fill="#000"/>
<circle cx="981.5" cy="907.9" r="5.7" fill="#000"/>
<circle cx="995.9" cy="907.9" r="5.7" fill="#000"/>
<circle cx="1009.9" cy="907.9" r="5.7" fill="#000"/>
<circle cx="1023.9" cy="907.9" r="5.7" fill="#000"/>
<circle cx="967.1" cy="983" r="5.7" fill="#000"/>
<circle cx="981.5" cy="983" r="5.7" fill="#000"/>
<circle cx="995.9" cy="983" r="5.7" fill="#000"/>
<circle cx="1009.9" cy="983" r="5.7" fill="#000"/>
<circle cx="1023.9" cy="983" r="5.7" fill="#000"/>
<line x1="885.4" y1="648.8" x2="1002.9" y2="648.8" stroke="#000" stroke-width="5.4"/>
<text x="947.3" y="641" text-anchor="middle" font-size="33.8" style="font-family:DejaVu Sans,Liberation Sans,sans-serif;stroke:#000;stroke-width:1.3px;stroke-linejoin:round;" letter-spacing="4.8">***</text>
<text x="887.5" y="1031.2" text-anchor="middle" font-size="31">CON</text>
<text x="996" y="1031.2" text-anchor="middle" font-size="31">DE</text>
</g>
<g><!-- f -->
<text x="1137.5" y="585" font-size="54.5">f</text>
<text transform="translate(1187.5 791) scale(0.955 1) rotate(-90)" text-anchor="middle" font-size="31">Discrimination index</text>
<path d="M1305.2 792.8L1305.2 763.1L1366.3 763.1L1366.3 792.8" fill="#fff" stroke="#000" stroke-width="5.1" stroke-linejoin="miter"/>
<path d="M1406.4 792.8L1406.4 829.9L1467.4 829.9L1467.4 792.8" fill="#93c1fa" stroke="#000" stroke-width="5.1" stroke-linejoin="miter"/>
<line x1="1269.2" y1="601.6" x2="1269.2" y2="982" stroke="#000" stroke-width="4.1"/>
<line x1="1253.7" y1="603.7" x2="1269.2" y2="603.7" stroke="#000" stroke-width="4.1"/>
<text transform="translate(1250.6 614.3) scale(0.955 1)" text-anchor="end" font-size="31">1.5</text>
<line x1="1253.7" y1="667.1" x2="1269.2" y2="667.1" stroke="#000" stroke-width="4.1"/>
<text transform="translate(1250.6 677.7) scale(0.955 1)" text-anchor="end" font-size="31">1.0</text>
<line x1="1253.7" y1="729.8" x2="1269.2" y2="729.8" stroke="#000" stroke-width="4.1"/>
<text transform="translate(1250.6 740.4) scale(0.955 1)" text-anchor="end" font-size="31">0.5</text>
<line x1="1253.7" y1="792.8" x2="1269.2" y2="792.8" stroke="#000" stroke-width="4.1"/>
<text transform="translate(1250.6 803.4) scale(0.955 1)" text-anchor="end" font-size="31">0.0</text>
<line x1="1253.7" y1="855.1" x2="1269.2" y2="855.1" stroke="#000" stroke-width="4.1"/>
<text transform="translate(1250.6 865.7) scale(0.955 1)" text-anchor="end" font-size="31">-0.5</text>
<line x1="1253.7" y1="916.9" x2="1269.2" y2="916.9" stroke="#000" stroke-width="4.1"/>
<text transform="translate(1250.6 927.5) scale(0.955 1)" text-anchor="end" font-size="31">-1.0</text>
<line x1="1253.7" y1="980" x2="1269.2" y2="980" stroke="#000" stroke-width="4.1"/>
<text transform="translate(1250.6 990.6) scale(0.955 1)" text-anchor="end" font-size="31">-1.5</text>
<line x1="1255.2" y1="980" x2="1506.2" y2="980" stroke="#000" stroke-width="4.1"/>
<line x1="1255.2" y1="792.8" x2="1506.2" y2="792.8" stroke="#000" stroke-width="4.1"/>
<line x1="1335.7" y1="980" x2="1335.7" y2="995.5" stroke="#000" stroke-width="4.1"/>
<line x1="1436.9" y1="980" x2="1436.9" y2="995.5" stroke="#000" stroke-width="4.1"/>
<line x1="1335.7" y1="711.1" x2="1335.7" y2="808.4" stroke="#000" stroke-width="1.8"/>
<line x1="1319.2" y1="711.1" x2="1352.2" y2="711.1" stroke="#000" stroke-width="1.8"/>
<line x1="1319.2" y1="808.4" x2="1352.2" y2="808.4" stroke="#000" stroke-width="1.8"/>
<line x1="1436.9" y1="757" x2="1436.9" y2="897.5" stroke="#000" stroke-width="1.8"/>
<line x1="1420.4" y1="757" x2="1453.4" y2="757" stroke="#000" stroke-width="1.8"/>
<line x1="1420.4" y1="897.5" x2="1453.4" y2="897.5" stroke="#000" stroke-width="1.8"/>
<circle cx="1327.2" cy="667.1" r="5.3" fill="#000"/>
<circle cx="1343.9" cy="667.1" r="5.3" fill="#000"/>
<circle cx="1335.7" cy="732.1" r="5.3" fill="#000"/>
<circle cx="1327.2" cy="754.3" r="5.3" fill="#000"/>
<circle cx="1343.9" cy="756.2" r="5.3" fill="#000"/>
<circle cx="1335.7" cy="774.5" r="5.3" fill="#000"/>
<circle cx="1360.3" cy="775.3" r="5.3" fill="#000"/>
<circle cx="1310.8" cy="783.1" r="5.3" fill="#000"/>
<circle cx="1327.2" cy="786.2" r="5.3" fill="#000"/>
<circle cx="1343.9" cy="792.8" r="5.3" fill="#000"/>
<circle cx="1327.2" cy="812.3" r="5.3" fill="#000"/>
<circle cx="1343.9" cy="813.4" r="5.3" fill="#000"/>
<circle cx="1436.5" cy="667.1" r="5.3" fill="#000"/>
<circle cx="1445.1" cy="778" r="5.3" fill="#000"/>
<circle cx="1411.6" cy="792.8" r="5.3" fill="#000"/>
<circle cx="1428.3" cy="792.8" r="5.3" fill="#000"/>
<circle cx="1461.8" cy="792.8" r="5.3" fill="#000"/>
<circle cx="1445.1" cy="818.5" r="5.3" fill="#000"/>
<circle cx="1428.3" cy="835.6" r="5.3" fill="#000"/>
<circle cx="1436.5" cy="862.1" r="5.3" fill="#000"/>
<circle cx="1428.3" cy="872.2" r="5.3" fill="#000"/>
<circle cx="1445.1" cy="881.5" r="5.3" fill="#000"/>
<circle cx="1428.3" cy="917.3" r="5.3" fill="#000"/>
<circle cx="1445.1" cy="917.3" r="5.3" fill="#000"/>
<line x1="1337.7" y1="643.8" x2="1438.1" y2="643.8" stroke="#000" stroke-width="5.4"/>
<text x="1390.3" y="634.8" text-anchor="middle" font-size="33.8" style="font-family:DejaVu Sans,Liberation Sans,sans-serif;stroke:#000;stroke-width:1.3px;stroke-linejoin:round;" letter-spacing="4.8">*</text>
<text transform="translate(1332.3 1028.3) scale(0.955 1)" text-anchor="middle" font-size="31">CON</text>
<text transform="translate(1436.6 1028.3) scale(0.955 1)" text-anchor="middle" font-size="31">DE</text>
</g>
<g><!-- g -->
<text x="1581" y="579" font-size="54.5">g</text>
<text x="1657" y="794.3" text-anchor="middle" font-size="30.3" transform="rotate(-90 1657 794.3)">Total exploration time (s)</text>
<path d="M1762.6 981.9L1762.6 873.8L1826.5 873.8L1826.5 981.9" fill="#fff" stroke="#000" stroke-width="5" stroke-linejoin="miter"/>
<path d="M1867.3 981.9L1867.3 964.9L1931.5 964.9L1931.5 981.9" fill="#93c1fa" stroke="#000" stroke-width="5" stroke-linejoin="miter"/>
<line x1="1724.8" y1="612.7" x2="1724.8" y2="983.9" stroke="#000" stroke-width="4"/>
<line x1="1709.3" y1="614.7" x2="1724.8" y2="614.7" stroke="#000" stroke-width="4"/>
<text x="1705.6" y="625.1" text-anchor="end" font-size="30.3">30</text>
<line x1="1709.3" y1="737.3" x2="1724.8" y2="737.3" stroke="#000" stroke-width="4"/>
<text x="1705.6" y="747.7" text-anchor="end" font-size="30.3">20</text>
<line x1="1709.3" y1="859.6" x2="1724.8" y2="859.6" stroke="#000" stroke-width="4"/>
<text x="1705.6" y="870" text-anchor="end" font-size="30.3">10</text>
<line x1="1709.3" y1="981.9" x2="1724.8" y2="981.9" stroke="#000" stroke-width="4"/>
<text x="1705.6" y="992.3" text-anchor="end" font-size="30.3">0</text>
<line x1="1708.6" y1="981.9" x2="1970.7" y2="981.9" stroke="#000" stroke-width="4"/>
<line x1="1794.5" y1="981.9" x2="1794.5" y2="997.8" stroke="#000" stroke-width="4"/>
<line x1="1899.3" y1="981.9" x2="1899.3" y2="997.8" stroke="#000" stroke-width="4"/>
<line x1="1794.5" y1="770.6" x2="1794.5" y2="971" stroke="#000" stroke-width="1.8"/>
<line x1="1777.3" y1="770.6" x2="1811.8" y2="770.6" stroke="#000" stroke-width="1.8"/>
<line x1="1777.3" y1="971" x2="1811.8" y2="971" stroke="#000" stroke-width="1.8"/>
<line x1="1899.3" y1="940.5" x2="1899.3" y2="981.9" stroke="#000" stroke-width="1.8"/>
<line x1="1882.1" y1="940.5" x2="1916.6" y2="940.5" stroke="#000" stroke-width="1.8"/>
<line x1="1882.1" y1="981.9" x2="1916.6" y2="981.9" stroke="#000" stroke-width="1.8"/>
<circle cx="1794.5" cy="646.4" r="5.5" fill="#000"/>
<circle cx="1794.5" cy="743.4" r="5.5" fill="#000"/>
<circle cx="1794.5" cy="782.6" r="5.5" fill="#000"/>
<circle cx="1794.5" cy="837.3" r="5.5" fill="#000"/>
<circle cx="1794.5" cy="885.4" r="5.5" fill="#000"/>
<circle cx="1801.7" cy="905.4" r="5.5" fill="#000"/>
<circle cx="1787.3" cy="911.8" r="5.5" fill="#000"/>
<circle cx="1787.3" cy="921.6" r="5.5" fill="#000"/>
<circle cx="1801.7" cy="932.1" r="5.5" fill="#000"/>
<circle cx="1794.5" cy="950.7" r="5.5" fill="#000"/>
<circle cx="1787.3" cy="959.4" r="5.5" fill="#000"/>
<circle cx="1801.7" cy="975.8" r="5.5" fill="#000"/>
<circle cx="1890.4" cy="927.1" r="5.5" fill="#000"/>
<circle cx="1909" cy="929.3" r="5.5" fill="#000"/>
<circle cx="1899.6" cy="932.1" r="5.5" fill="#000"/>
<circle cx="1894.9" cy="954.9" r="5.5" fill="#000"/>
<circle cx="1904" cy="955.5" r="5.5" fill="#000"/>
<circle cx="1879.6" cy="974.4" r="5.5" fill="#000"/>
<circle cx="1899.6" cy="972.4" r="5.5" fill="#000"/>
<circle cx="1918.5" cy="972.4" r="5.5" fill="#000"/>
<circle cx="1871.2" cy="974.9" r="5.5" fill="#000"/>
<circle cx="1890.1" cy="981.3" r="5.5" fill="#000"/>
<circle cx="1909" cy="982.7" r="5.5" fill="#000"/>
<circle cx="1927.7" cy="982.7" r="5.5" fill="#000"/>
<line x1="1797.6" y1="622.2" x2="1904.6" y2="622.2" stroke="#000" stroke-width="5.4"/>
<text x="1855" y="613.4" text-anchor="middle" font-size="33.8" style="font-family:DejaVu Sans,Liberation Sans,sans-serif;stroke:#000;stroke-width:1.3px;stroke-linejoin:round;" letter-spacing="4.8">**</text>
<text x="1789.9" y="1029.2" text-anchor="middle" font-size="30.3">CON</text>
<text x="1898.4" y="1029.2" text-anchor="middle" font-size="30.3">DE</text>
</g>
<g><!-- h -->
<text x="-0.5" y="1152.8" font-size="54.5">h</text>
<text x="103.4" y="1359" text-anchor="middle" font-size="30.5" transform="rotate(-90 103.4 1359)">Spontaneous Alternation (%)</text>
<path d="M208.2 1547.9L208.2 1300.5L271.6 1300.5L271.6 1547.9" fill="#fff" stroke="#000" stroke-width="5" stroke-linejoin="miter"/>
<path d="M312.7 1547.9L312.7 1418.7L376.7 1418.7L376.7 1547.9" fill="#93c1fa" stroke="#000" stroke-width="5" stroke-linejoin="miter"/>
<line x1="171" y1="1173.5" x2="171" y2="1549.9" stroke="#000" stroke-width="4"/>
<line x1="155" y1="1175.5" x2="171" y2="1175.5" stroke="#000" stroke-width="4"/>
<text x="151.2" y="1186" text-anchor="end" font-size="30.5">80</text>
<line x1="155" y1="1268.9" x2="171" y2="1268.9" stroke="#000" stroke-width="4"/>
<text x="151.2" y="1279.4" text-anchor="end" font-size="30.5">60</text>
<line x1="155" y1="1362" x2="171" y2="1362" stroke="#000" stroke-width="4"/>
<text x="151.2" y="1372.5" text-anchor="end" font-size="30.5">40</text>
<line x1="155" y1="1455.1" x2="171" y2="1455.1" stroke="#000" stroke-width="4"/>
<text x="151.2" y="1465.6" text-anchor="end" font-size="30.5">20</text>
<line x1="155" y1="1547.9" x2="171" y2="1547.9" stroke="#000" stroke-width="4"/>
<text x="151.2" y="1558.4" text-anchor="end" font-size="30.5">0</text>
<line x1="154.6" y1="1547.9" x2="415.6" y2="1547.9" stroke="#000" stroke-width="4"/>
<line x1="239.9" y1="1547.9" x2="239.9" y2="1563.9" stroke="#000" stroke-width="4"/>
<line x1="344.7" y1="1547.9" x2="344.7" y2="1563.9" stroke="#000" stroke-width="4"/>
<line x1="239.9" y1="1245" x2="239.9" y2="1351.4" stroke="#000" stroke-width="1.8"/>
<line x1="222.9" y1="1245" x2="256.9" y2="1245" stroke="#000" stroke-width="1.8"/>
<line x1="222.9" y1="1351.4" x2="256.9" y2="1351.4" stroke="#000" stroke-width="1.8"/>
<line x1="344.7" y1="1271.9" x2="344.7" y2="1547.9" stroke="#000" stroke-width="1.8"/>
<line x1="327.7" y1="1271.9" x2="361.7" y2="1271.9" stroke="#000" stroke-width="1.8"/>
<line x1="327.7" y1="1547.9" x2="361.7" y2="1547.9" stroke="#000" stroke-width="1.8"/>
<circle cx="239.9" cy="1216" r="5.5" fill="#000"/>
<circle cx="239.9" cy="1238" r="5.5" fill="#000"/>
<circle cx="251.9" cy="1281.6" r="5.5" fill="#000"/>
<circle cx="228.3" cy="1286.4" r="5.5" fill="#000"/>
<circle cx="239.9" cy="1303.6" r="5.5" fill="#000"/>
<circle cx="216.6" cy="1315.5" r="5.5" fill="#000"/>
<circle cx="239.9" cy="1315.5" r="5.5" fill="#000"/>
<circle cx="263.3" cy="1326.7" r="5.5" fill="#000"/>
<circle cx="239.9" cy="1402" r="5.5" fill="#000"/>
<circle cx="344.7" cy="1199.4" r="5.5" fill="#000"/>
<circle cx="344.7" cy="1238.3" r="5.5" fill="#000"/>
<circle cx="344.7" cy="1315.8" r="5.5" fill="#000"/>
<circle cx="344.7" cy="1341.7" r="5.5" fill="#000"/>
<circle cx="344.7" cy="1455.1" r="5.5" fill="#000"/>
<circle cx="318.3" cy="1547.9" r="5.5" fill="#000"/>
<circle cx="335.8" cy="1547.9" r="5.5" fill="#000"/>
<circle cx="353.3" cy="1547.9" r="5.5" fill="#000"/>
<circle cx="370.8" cy="1547.9" r="5.5" fill="#000"/>
<line x1="240.2" y1="1189.1" x2="346.4" y2="1189.1" stroke="#000" stroke-width="5.4"/>
<text x="295.7" y="1179.7" text-anchor="middle" font-size="33.8" style="font-family:DejaVu Sans,Liberation Sans,sans-serif;stroke:#000;stroke-width:1.3px;stroke-linejoin:round;" letter-spacing="4.8">*</text>
<text x="239.8" y="1596.2" text-anchor="middle" font-size="30.5">CON</text>
<text x="344.6" y="1596.2" text-anchor="middle" font-size="30.5">DE</text>
</g>
<g><!-- i -->
<text x="479" y="1147.8" font-size="54.5">i</text>
<text x="531.2" y="1358.5" text-anchor="middle" font-size="30.5" transform="rotate(-90 531.2 1358.5)">The total number of entries</text>
<path d="M635.6 1547.1L635.6 1392L699.5 1392L699.5 1547.1" fill="#fff" stroke="#000" stroke-width="5" stroke-linejoin="miter"/>
<path d="M740.3 1547.1L740.3 1501.2L804.5 1501.2L804.5 1547.1" fill="#93c1fa" stroke="#000" stroke-width="5" stroke-linejoin="miter"/>
<line x1="598.9" y1="1169.3" x2="598.9" y2="1549.1" stroke="#000" stroke-width="4"/>
<line x1="583.2" y1="1171.3" x2="598.9" y2="1171.3" stroke="#000" stroke-width="4"/>
<text x="579.2" y="1182.1" text-anchor="end" font-size="30.5">40</text>
<line x1="583.2" y1="1265.3" x2="598.9" y2="1265.3" stroke="#000" stroke-width="4"/>
<text x="579.2" y="1276.1" text-anchor="end" font-size="30.5">30</text>
<line x1="583.2" y1="1359.2" x2="598.9" y2="1359.2" stroke="#000" stroke-width="4"/>
<text x="579.2" y="1370" text-anchor="end" font-size="30.5">20</text>
<line x1="583.2" y1="1453.1" x2="598.9" y2="1453.1" stroke="#000" stroke-width="4"/>
<text x="579.2" y="1463.9" text-anchor="end" font-size="30.5">10</text>
<line x1="583.2" y1="1547.1" x2="598.9" y2="1547.1" stroke="#000" stroke-width="4"/>
<text x="579.2" y="1557.9" text-anchor="end" font-size="30.5">0</text>
<line x1="582.5" y1="1547.1" x2="843.7" y2="1547.1" stroke="#000" stroke-width="4"/>
<line x1="667.5" y1="1547.1" x2="667.5" y2="1563.4" stroke="#000" stroke-width="4"/>
<line x1="772.3" y1="1547.1" x2="772.3" y2="1563.4" stroke="#000" stroke-width="4"/>
<line x1="667.5" y1="1296.4" x2="667.5" y2="1483.4" stroke="#000" stroke-width="1.8"/>
<line x1="650.5" y1="1296.4" x2="684.5" y2="1296.4" stroke="#000" stroke-width="1.8"/>
<line x1="650.5" y1="1483.4" x2="684.5" y2="1483.4" stroke="#000" stroke-width="1.8"/>
<line x1="772.3" y1="1464.3" x2="772.3" y2="1532.6" stroke="#000" stroke-width="1.8"/>
<line x1="755.3" y1="1464.3" x2="789.3" y2="1464.3" stroke="#000" stroke-width="1.8"/>
<line x1="755.3" y1="1532.6" x2="789.3" y2="1532.6" stroke="#000" stroke-width="1.8"/>
<circle cx="667.5" cy="1218.9" r="5.6" fill="#000"/>
<circle cx="667.5" cy="1332" r="5.6" fill="#000"/>
<circle cx="660.8" cy="1350.3" r="5.6" fill="#000"/>
<circle cx="674.7" cy="1350.3" r="5.6" fill="#000"/>
<circle cx="667.5" cy="1378.9" r="5.6" fill="#000"/>
<circle cx="667.5" cy="1397.8" r="5.6" fill="#000"/>
<circle cx="667.5" cy="1463.7" r="5.6" fill="#000"/>
<circle cx="660.3" cy="1510.1" r="5.6" fill="#000"/>
<circle cx="674.7" cy="1510.1" r="5.6" fill="#000"/>
<circle cx="772.3" cy="1444" r="5.6" fill="#000"/>
<circle cx="772.3" cy="1472.9" r="5.6" fill="#000"/>
<circle cx="795.6" cy="1472.9" r="5.6" fill="#000"/>
<circle cx="749" cy="1482.1" r="5.6" fill="#000"/>
<circle cx="760.6" cy="1501" r="5.6" fill="#000"/>
<circle cx="784" cy="1501" r="5.6" fill="#000"/>
<circle cx="749" cy="1538.2" r="5.6" fill="#000"/>
<circle cx="772.3" cy="1538.2" r="5.6" fill="#000"/>
<circle cx="795.6" cy="1538.2" r="5.6" fill="#000"/>
<line x1="671.1" y1="1196.6" x2="779.5" y2="1196.6" stroke="#000" stroke-width="5.4"/>
<text x="728" y="1188.3" text-anchor="middle" font-size="33.8" style="font-family:DejaVu Sans,Liberation Sans,sans-serif;stroke:#000;stroke-width:1.3px;stroke-linejoin:round;" letter-spacing="4.8">**</text>
<text x="667.3" y="1596.2" text-anchor="middle" font-size="30.5">CON</text>
<text x="772.6" y="1596.2" text-anchor="middle" font-size="30.5">DE</text>
</g>
<g><!-- j -->
<text x="940.4" y="1150.6" font-size="54.5">j</text>
<text transform="translate(1000.6 1371.5) scale(0.930 1) rotate(-90)" text-anchor="middle" font-size="28.5">Tissue ROS intensity</text>
<text transform="translate(1031.2 1371.5) scale(0.930 1) rotate(-90)" text-anchor="middle" font-size="28.5">(the fluorecence intensity/mg protein)</text>
<path d="M1149.1 1546.8L1149.1 1436.6L1204.1 1436.6L1204.1 1546.8" fill="#fff" stroke="#000" stroke-width="4.8" stroke-linejoin="miter"/>
<path d="M1240.6 1546.8L1240.6 1349L1295.8 1349L1295.8 1546.8" fill="#93c1fa" stroke="#000" stroke-width="4.8" stroke-linejoin="miter"/>
<line x1="1116.7" y1="1198.1" x2="1116.7" y2="1548.6" stroke="#000" stroke-width="3.6"/>
<line x1="1103" y1="1199.9" x2="1116.7" y2="1199.9" stroke="#000" stroke-width="3.6"/>
<text transform="translate(1099.8 1209.9) scale(0.930 1)" text-anchor="end" font-size="28.5">8000</text>
<line x1="1103" y1="1286.9" x2="1116.7" y2="1286.9" stroke="#000" stroke-width="3.6"/>
<text transform="translate(1099.8 1296.9) scale(0.930 1)" text-anchor="end" font-size="28.5">6000</text>
<line x1="1103" y1="1373.6" x2="1116.7" y2="1373.6" stroke="#000" stroke-width="3.6"/>
<text transform="translate(1099.8 1383.6) scale(0.930 1)" text-anchor="end" font-size="28.5">4000</text>
<line x1="1103" y1="1460" x2="1116.7" y2="1460" stroke="#000" stroke-width="3.6"/>
<text transform="translate(1099.8 1470) scale(0.930 1)" text-anchor="end" font-size="28.5">2000</text>
<line x1="1103" y1="1546.8" x2="1116.7" y2="1546.8" stroke="#000" stroke-width="3.6"/>
<text transform="translate(1099.8 1556.8) scale(0.930 1)" text-anchor="end" font-size="28.5">0</text>
<line x1="1101.4" y1="1546.8" x2="1330.2" y2="1546.8" stroke="#000" stroke-width="3.6"/>
<line x1="1176.5" y1="1546.8" x2="1176.5" y2="1561.8" stroke="#000" stroke-width="3.6"/>
<line x1="1267.9" y1="1546.8" x2="1267.9" y2="1561.8" stroke="#000" stroke-width="3.6"/>
<line x1="1176.5" y1="1397.2" x2="1176.5" y2="1470.9" stroke="#000" stroke-width="1.8"/>
<line x1="1161.5" y1="1397.2" x2="1191.5" y2="1397.2" stroke="#000" stroke-width="1.8"/>
<line x1="1161.5" y1="1470.9" x2="1191.5" y2="1470.9" stroke="#000" stroke-width="1.8"/>
<line x1="1267.9" y1="1313.9" x2="1267.9" y2="1380" stroke="#000" stroke-width="1.8"/>
<line x1="1252.9" y1="1313.9" x2="1282.9" y2="1313.9" stroke="#000" stroke-width="1.8"/>
<line x1="1252.9" y1="1380" x2="1282.9" y2="1380" stroke="#000" stroke-width="1.8"/>
<circle cx="1166.7" cy="1382.5" r="5.5" fill="#000"/>
<circle cx="1187" cy="1391.7" r="5.5" fill="#000"/>
<circle cx="1197.3" cy="1422.8" r="5.5" fill="#000"/>
<circle cx="1156.4" cy="1430.6" r="5.5" fill="#000"/>
<circle cx="1176.5" cy="1431.4" r="5.5" fill="#000"/>
<circle cx="1166.7" cy="1457.3" r="5.5" fill="#000"/>
<circle cx="1187" cy="1459.5" r="5.5" fill="#000"/>
<circle cx="1176.5" cy="1496.5" r="5.5" fill="#000"/>
<circle cx="1268.2" cy="1287.7" r="5.5" fill="#000"/>
<circle cx="1267.9" cy="1335" r="5.5" fill="#000"/>
<circle cx="1267.9" cy="1351.1" r="5.5" fill="#000"/>
<circle cx="1247.9" cy="1361.1" r="5.5" fill="#000"/>
<circle cx="1268.2" cy="1372.8" r="5.5" fill="#000"/>
<circle cx="1288.2" cy="1376.7" r="5.5" fill="#000"/>
<line x1="1177.8" y1="1242.1" x2="1265.9" y2="1242.1" stroke="#000" stroke-width="4.8"/>
<text x="1225.2" y="1233.9" text-anchor="middle" font-size="28.9" style="font-family:DejaVu Sans,Liberation Sans,sans-serif;stroke:#000;stroke-width:1.3px;stroke-linejoin:round;" letter-spacing="4.1">***</text>
<text transform="translate(1173.5 1592) scale(0.930 1)" text-anchor="middle" font-size="28.5">CON</text>
<text transform="translate(1268 1592) scale(0.930 1)" text-anchor="middle" font-size="28.5">DE</text>
</g>
<g><!-- l -->
<text x="1403.7" y="1153" font-size="54.5">l</text>
<text x="1478.3" y="1364" text-anchor="middle" font-size="29.9" transform="rotate(-90 1478.3 1364)">Relative colocation</text>
<path d="M1580.5 1546.9L1580.5 1274.1L1623.5 1274.1L1623.5 1546.9" fill="#fff" stroke="#000" stroke-width="5.1" stroke-linejoin="miter"/>
<path d="M1653.3 1546.9L1653.3 1463.7L1695.6 1463.7L1695.6 1546.9" fill="#93c1fa" stroke="#000" stroke-width="5.1" stroke-linejoin="miter"/>
<path d="M1773.6 1546.9L1773.6 1232.2L1816.6 1232.2L1816.6 1546.9" fill="#fff" stroke="#000" stroke-width="5.1" stroke-linejoin="miter"/>
<path d="M1846.1 1546.9L1846.1 1427.4L1889.1 1427.4L1889.1 1546.9" fill="#93c1fa" stroke="#000" stroke-width="5.1" stroke-linejoin="miter"/>
<line x1="1553.5" y1="1183.1" x2="1553.5" y2="1548.8" stroke="#000" stroke-width="3.9"/>
<line x1="1538.3" y1="1185.1" x2="1553.5" y2="1185.1" stroke="#000" stroke-width="3.9"/>
<text x="1534.3" y="1195.5" text-anchor="end" font-size="30">0.6</text>
<line x1="1538.3" y1="1305.7" x2="1553.5" y2="1305.7" stroke="#000" stroke-width="3.9"/>
<text x="1534.3" y="1316.1" text-anchor="end" font-size="30">0.4</text>
<line x1="1538.3" y1="1426.3" x2="1553.5" y2="1426.3" stroke="#000" stroke-width="3.9"/>
<text x="1534.3" y="1436.7" text-anchor="end" font-size="30">0.2</text>
<line x1="1538.3" y1="1546.9" x2="1553.5" y2="1546.9" stroke="#000" stroke-width="3.9"/>
<text x="1534.3" y="1557.3" text-anchor="end" font-size="30">0.0</text>
<line x1="1538.9" y1="1546.9" x2="1917.1" y2="1546.9" stroke="#000" stroke-width="3.9"/>
<line x1="1637.9" y1="1546.9" x2="1637.9" y2="1561.8" stroke="#000" stroke-width="3.9"/>
<line x1="1831" y1="1546.9" x2="1831" y2="1561.8" stroke="#000" stroke-width="3.9"/>
<line x1="1602.3" y1="1221.7" x2="1602.3" y2="1322.1" stroke="#000" stroke-width="1.7"/>
<line x1="1589.8" y1="1221.7" x2="1614.8" y2="1221.7" stroke="#000" stroke-width="1.7"/>
<line x1="1589.8" y1="1322.1" x2="1614.8" y2="1322.1" stroke="#000" stroke-width="1.7"/>
<line x1="1674.1" y1="1457.6" x2="1674.1" y2="1465.3" stroke="#000" stroke-width="1.7"/>
<line x1="1661.6" y1="1457.6" x2="1686.6" y2="1457.6" stroke="#000" stroke-width="1.7"/>
<line x1="1661.6" y1="1465.3" x2="1686.6" y2="1465.3" stroke="#000" stroke-width="1.7"/>
<line x1="1795.1" y1="1214.4" x2="1795.1" y2="1244" stroke="#000" stroke-width="1.7"/>
<line x1="1782.6" y1="1214.4" x2="1807.6" y2="1214.4" stroke="#000" stroke-width="1.7"/>
<line x1="1782.6" y1="1244" x2="1807.6" y2="1244" stroke="#000" stroke-width="1.7"/>
<line x1="1867.2" y1="1367" x2="1867.2" y2="1481.7" stroke="#000" stroke-width="1.7"/>
<line x1="1854.7" y1="1367" x2="1879.7" y2="1367" stroke="#000" stroke-width="1.7"/>
<line x1="1854.7" y1="1481.7" x2="1879.7" y2="1481.7" stroke="#000" stroke-width="1.7"/>
<path d="M1602.3 1207.4 L1610.2 1223.2 L1594.4 1223.2 Z" fill="#000"/>
<path d="M1602.3 1281.3 L1610.2 1297.1 L1594.4 1297.1 Z" fill="#000"/>
<path d="M1602.3 1305 L1610.2 1320.8 L1594.4 1320.8 Z" fill="#000"/>
<path d="M1795.1 1207.4 L1803 1223.2 L1787.2 1223.2 Z" fill="#000"/>
<path d="M1782.9 1219.6 L1790.8 1235.4 L1775 1235.4 Z" fill="#000"/>
<path d="M1806.6 1237.7 L1814.5 1253.5 L1798.7 1253.5 Z" fill="#000"/>
<circle cx="1659.1" cy="1456.6" r="7.8" fill="#000"/>
<circle cx="1674.1" cy="1463.6" r="7.8" fill="#000"/>
<circle cx="1689.8" cy="1462.9" r="7.8" fill="#000"/>
<circle cx="1867.2" cy="1367" r="7.8" fill="#000"/>
<circle cx="1867.2" cy="1427.3" r="7.8" fill="#000"/>
<circle cx="1867.2" cy="1481.7" r="7.8" fill="#000"/>
<line x1="1600.9" y1="1195.9" x2="1672" y2="1195.9" stroke="#000" stroke-width="5"/>
<text x="1640.4" y="1186.8" text-anchor="middle" font-size="30.9" style="font-family:DejaVu Sans,Liberation Sans,sans-serif;stroke:#000;stroke-width:1.3px;stroke-linejoin:round;" letter-spacing="4.4">***</text>
<line x1="1796.1" y1="1193.4" x2="1865.5" y2="1193.4" stroke="#000" stroke-width="5"/>
<text x="1834.9" y="1184.4" text-anchor="middle" font-size="30.9" style="font-family:DejaVu Sans,Liberation Sans,sans-serif;stroke:#000;stroke-width:1.3px;stroke-linejoin:round;" letter-spacing="4.4">***</text>
<text x="1637.7" y="1593.5" text-anchor="middle" font-size="30">CA3</text>
<text x="1830.8" y="1593.5" text-anchor="middle" font-size="30">DG</text>
<path d="M1902.1 1201.3 L1910.2 1217.5 L1894 1217.5 Z" fill="#000"/>
<circle cx="1902.1" cy="1258.3" r="8.1" fill="#000"/>
<text x="1942.9" y="1219.3" font-size="29.7">CON</text>
<text x="1942.9" y="1267.4" font-size="29.7">DE</text>
</g>
<g><!-- k -->
<text x="0" y="1715" font-size="54.5">k</text>
<text x="218" y="1717" text-anchor="middle" font-size="31.3">CON</text>
<text x="473" y="1717" text-anchor="middle" font-size="31.3">DE</text>
<text x="35.2" y="1893" font-size="31.2">CA3</text>
<text x="35.2" y="2171.5" font-size="31.2">DG</text>
<g transform="translate(105.5 1735.2)" clip-path="url(#ck)">
<rect x="0" y="0" width="236.6" height="251.3" fill="#010102"/>
<g filter="url(#b8)">
<path d="M-10 115 L45 98 L85 110 L100 170 L115 230 L125 262 L50 262 L20 200 L-10 170Z" fill="#1c1a40" fill-opacity="0.6"/>
<path d="M-10 150 L25 160 L55 262 L-10 262Z" fill="#0e2a0e" fill-opacity="0.9"/>
</g>
<rect x="0" y="0" width="236.6" height="251.3" filter="url(#grain)"/>
<g filter="url(#b05)">
<path d="M65 106h0M64 224h0M33 193h0M87 157h0M22 113h0M96 153h0M9 104h0M102 162h0M88 166h0M86 177h0M18 160h0M23 171h0M100 214h0M89 185h0M97 250h0M43 155h0M19 134h0M82 233h0M54 233h0M23 122h0M35 171h0M55 183h0M104 175h0M117 231h0M59 157h0M31 120h0M8 95h0M15 152h0M38 149h0M70 170h0M15 148h0M39 152h0M78 150h0M4 139h0M104 244h0M55 129h0M30 127h0M98 220h0M99 237h0M82 115h0M44 133h0M39 160h0M88 236h0M26 169h0M83 146h0M83 217h0M84 134h0M114 237h0M92 174h0M104 166h0M72 242h0M84 242h0M21 114h0M11 133h0M100 217h0M73 249h0M24 162h0M51 126h0M66 98h0M94 175h0M16 136h0M63 237h0M86 204h0M51 181h0M40 115h0M36 112h0M8 126h0M46 213h0M75 123h0M3 134h0M71 241h0M103 248h0M61 149h0M38 120h0M42 133h0" fill="none" stroke="#8e2a40" stroke-width="5.2" stroke-linecap="round" stroke-opacity="0.50"/>
<path d="M69 120h0M46 151h0M57 169h0M30 174h0M40 109h0M6 99h0M35 186h0M113 198h0M76 225h0M102 203h0M5 116h0M94 193h0M38 107h0M72 202h0M93 195h0M22 135h0M46 184h0M9 137h0M104 200h0M77 167h0M69 223h0M67 137h0M21 177h0M45 117h0M47 226h0M113 226h0M43 153h0M64 138h0M77 125h0M95 237h0M82 207h0M97 140h0M52 141h0M45 182h0M25 120h0M21 125h0M51 109h0M39 184h0M79 154h0M19 174h0M37 157h0M37 112h0M78 201h0M108 196h0M69 181h0M97 142h0M38 194h0M87 156h0M90 97h0M69 245h0M101 161h0M100 239h0M5 148h0M35 130h0M28 130h0M100 243h0M21 103h0M59 235h0M110 251h0M57 153h0M25 95h0M53 244h0M39 212h0M93 136h0M47 138h0M113 238h0M71 244h0M58 134h0M74 240h0M48 151h0M37 105h0M83 146h0M13 110h0M63 192h0M112 227h0M85 153h0M30 134h0M49 157h0M76 131h0M98 250h0" fill="none" stroke="#2a8238" stroke-width="3" stroke-linecap="round" stroke-opacity="0.55"/>
<path d="M71 223h0M87 240h0M117 243h0M89 192h0M55 117h0M38 189h0M9 111h0M83 195h0M42 143h0M47 183h0M62 230h0M55 126h0M64 223h0M56 174h0M42 176h0M16 172h0M61 227h0M27 129h0M78 155h0M37 208h0M90 181h0M46 161h0M64 198h0M73 132h0M71 112h0M65 109h0M57 243h0M74 244h0M10 150h0M76 145h0M102 235h0M95 151h0M83 185h0M59 219h0M38 195h0M88 199h0M0 100h0M92 162h0M53 112h0M34 186h0M31 192h0M84 150h0M67 241h0M80 158h0M83 242h0M30 190h0M96 222h0M46 142h0M70 211h0M34 111h0M6 147h0M104 227h0M40 181h0M96 246h0M35 211h0M95 203h0M105 229h0M109 184h0M32 192h0M21 99h0M104 194h0M55 223h0M31 112h0M31 145h0M3 135h0M65 216h0M106 179h0M26 95h0M114 248h0M74 172h0M28 172h0M43 128h0M60 157h0M75 154h0M35 167h0M113 212h0M52 146h0M25 163h0M87 115h0M45 205h0M23 119h0M49 176h0M15 155h0M29 195h0M31 156h0M60 218h0M75 194h0M21 189h0M111 237h0M86 212h0M34 208h0M102 195h0M47 193h0M63 217h0M94 134h0M68 192h0M101 240h0M98 216h0M73 247h0M86 179h0M77 195h0M78 159h0M32 202h0M53 104h0M63 204h0M40 130h0M95 168h0M96 223h0M70 141h0M38 161h0M37 142h0M64 194h0M54 240h0M15 117h0M100 234h0M80 211h0M35 117h0M74 173h0M70 183h0M102 240h0M94 148h0M55 169h0M63 181h0M44 224h0M76 137h0M50 144h0M88 194h0M82 103h0M91 198h0M94 204h0M69 214h0M39 142h0M48 162h0M86 238h0M32 119h0M36 209h0M94 206h0M98 223h0M47 209h0M55 185h0M54 196h0M63 155h0M105 224h0M91 247h0M90 143h0M90 235h0M42 95h0M63 187h0M41 228h0M103 238h0M35 190h0M70 127h0M113 218h0M35 185h0M88 125h0M85 158h0M52 176h0M73 183h0M115 223h0M38 101h0M27 108h0M84 231h0M90 157h0M96 244h0M59 165h0M6 135h0M97 249h0M39 114h0M25 132h0M94 166h0" fill="none" stroke="#1e1eb0" stroke-width="4" stroke-linecap="round" stroke-opacity="0.80"/>
<path d="M207 55h0M174 20h0M107 11h0M188 63h0M94 96h0M114 48h0M96 33h0M209 40h0M98 57h0M123 100h0M89 108h0M79 99h0M181 27h0M149 35h0M113 26h0M130 109h0M236 102h0M86 35h0M219 11h0M191 36h0M232 7h0M204 41h0M93 5h0M208 60h0M101 51h0M221 28h0M165 19h0M100 86h0M188 26h0M83 14h0M171 57h0M115 27h0M172 79h0M205 66h0M104 12h0M192 48h0M190 11h0M205 40h0M210 96h0M152 7h0M221 55h0M215 33h0M101 92h0M131 22h0M132 67h0M71 60h0M144 59h0M90 80h0M206 96h0M123 80h0M133 84h0M80 97h0M228 57h0M155 61h0M159 7h0M231 28h0M100 16h0M112 91h0M75 15h0M186 25h0M73 68h0M166 60h0M187 16h0M214 80h0M77 18h0M152 58h0M116 18h0M137 19h0M168 95h0M94 65h0M194 22h0M207 103h0M135 49h0M209 60h0M136 104h0M199 41h0M110 40h0M142 108h0M204 101h0M205 94h0M79 59h0M229 103h0M111 49h0M175 43h0M158 12h0M142 58h0M73 20h0M231 87h0M226 71h0M204 98h0M217 9h0M177 33h0M183 34h0M160 102h0M173 31h0M156 51h0M228 35h0M121 73h0M90 67h0M229 59h0M115 54h0M159 21h0M91 19h0M119 48h0M118 31h0M85 62h0M209 69h0M165 73h0M103 80h0M147 63h0" fill="none" stroke="#0e0e60" stroke-width="3.6" stroke-linecap="round" stroke-opacity="0.75"/>
<path d="M183 165h0M142 129h0M130 172h0M152 184h0M102 146h0M217 128h0M176 169h0M139 248h0M140 214h0M122 101h0M218 160h0M108 152h0M160 208h0M115 126h0M230 208h0M121 144h0M148 198h0M184 226h0M212 173h0M200 209h0M203 166h0M207 203h0M224 110h0M218 91h0M204 184h0M168 244h0M178 157h0M207 230h0M183 151h0M162 163h0M198 137h0M153 179h0M152 142h0M207 226h0" fill="none" stroke="#1a1ac8" stroke-width="2.5" stroke-linecap="round" stroke-opacity="0.85"/>
<path d="M148 144h0M92 118h0M86 169h0M162 77h0M222 122h0M208 219h0M229 99h0M135 233h0M62 69h0M159 154h0M222 207h0M155 250h0M151 158h0M181 134h0M123 173h0M122 240h0M179 160h0M77 131h0M131 167h0M161 227h0M230 152h0M137 179h0M235 125h0M153 215h0M90 120h0M232 217h0M150 81h0M217 191h0M204 248h0M216 140h0M88 115h0M150 156h0M93 95h0M171 175h0M122 249h0M172 68h0M132 210h0M114 191h0M61 118h0M208 171h0M178 97h0M148 165h0M107 183h0M154 249h0M161 138h0M81 90h0M194 80h0M78 92h0M152 216h0M168 213h0M71 62h0M196 121h0M186 127h0M90 111h0M78 232h0M162 126h0M139 133h0M70 229h0M163 242h0M137 178h0M104 68h0M224 222h0M115 231h0M204 118h0M166 242h0M147 240h0M103 134h0M186 102h0M114 226h0M145 211h0M103 93h0M123 95h0M231 115h0M159 82h0M154 133h0M131 72h0M82 217h0M122 107h0M94 114h0M102 67h0M177 125h0M87 194h0M76 111h0M207 84h0M138 219h0M202 90h0M122 197h0M126 242h0M97 241h0M149 103h0M140 85h0M184 110h0M218 172h0M125 107h0M167 100h0M214 83h0M150 163h0M108 207h0M128 185h0M160 119h0M129 76h0M91 222h0M117 186h0M79 167h0M124 155h0M112 73h0M115 103h0M82 196h0M110 137h0M220 207h0M215 224h0M83 113h0M65 189h0M177 127h0M133 185h0M183 107h0M209 127h0M171 95h0M80 233h0M189 195h0M67 68h0M89 98h0M113 132h0M67 119h0M172 94h0M208 168h0M186 108h0M137 190h0M121 60h0M207 208h0M110 68h0M210 175h0M68 106h0M80 210h0M97 234h0M192 76h0M182 135h0M192 217h0M109 77h0M227 141h0M224 191h0M190 218h0M171 146h0M70 193h0M135 157h0M223 84h0M194 68h0M184 213h0M106 164h0M231 181h0" fill="none" stroke="#125816" stroke-width="1.3" stroke-linecap="round" stroke-opacity="0.75"/>
<path d="M33 175h0M4 186h0M25 170h0M19 164h0M42 218h0M14 174h0M31 195h0M56 185h0M18 239h0M9 207h0M20 232h0M33 227h0M10 217h0M36 197h0M46 234h0M7 179h0M22 171h0M4 178h0M12 221h0M27 161h0M19 197h0M22 167h0M4 151h0M60 226h0M5 222h0M59 207h0M7 199h0M26 169h0M33 151h0M55 215h0M38 244h0M39 175h0M15 164h0M2 228h0M50 180h0M11 214h0M51 244h0M10 229h0M50 225h0M20 169h0" fill="none" stroke="#1a6a20" stroke-width="1.5" stroke-linecap="round" stroke-opacity="0.70"/>
</g>
<text transform="translate(14 31.6) scale(0.875 1)" font-size="23" style="fill:#1616ea;">DAPI</text>
<text transform="translate(14 58.7) scale(0.875 1)" font-size="23" style="fill:#12a04e;">TOM20</text>
<text transform="translate(14 85.8) scale(0.875 1)" font-size="23" style="fill:#ee1a1a;">LAMP2</text>
<line x1="202" y1="239" x2="229.5" y2="239" stroke="#e8e8e8" stroke-width="1.1"/>
<text x="215.6" y="236.2" text-anchor="middle" style="font-family:Liberation Sans,sans-serif;font-weight:400;fill:#e8e8e8" font-size="5.6">50 µm</text>
</g>
<g transform="translate(366.8 1735.2)" clip-path="url(#ck)">
<rect x="0" y="0" width="236.6" height="251.3" fill="#010202"/>
<g filter="url(#b8)">
<path d="M45 20 L95 10 L105 110 L150 185 L240 215 L240 262 L95 262 L55 150Z" fill="#0e2416" fill-opacity="0.7"/>
<path d="M-30 120 L40 150 L60 280 L-30 280Z" fill="#051208" fill-opacity="0.8"/>
</g>
<rect x="0" y="0" width="236.6" height="251.3" filter="url(#grain)"/>
<g filter="url(#b05)">
<path d="M72 15h0M156 207h0M39 15h0M112 75h0M115 169h0M116 144h0M62 26h0M207 245h0M154 205h0M143 239h0M110 135h0M71 97h0M154 220h0M167 208h0M101 186h0M75 53h0M195 238h0M94 42h0M105 122h0M121 147h0M96 6h0M92 10h0M134 240h0M96 140h0M73 63h0M49 7h0M118 115h0M85 47h0M85 81h0M139 236h0M50 51h0M66 85h0M93 19h0M127 152h0M142 248h0M153 183h0M40 43h0M111 138h0M140 167h0M123 166h0M49 20h0M99 42h0M179 232h0M74 70h0M70 55h0M92 124h0M118 147h0M207 250h0M43 10h0M96 127h0M95 58h0M58 70h0M139 175h0M89 108h0M104 100h0M151 233h0M63 34h0M189 228h0M130 151h0M102 180h0M134 156h0M90 160h0M133 135h0M72 47h0M119 163h0M47 43h0M117 123h0M99 133h0M100 89h0M79 85h0M160 204h0M103 147h0M100 169h0M134 127h0M120 119h0M110 122h0M115 126h0M140 194h0M46 59h0M146 251h0M79 70h0M120 125h0M88 136h0M141 202h0M110 167h0M102 163h0M50 72h0M96 97h0M55 47h0M99 54h0M64 36h0M77 13h0M149 198h0M169 205h0M94 40h0M67 86h0M127 197h0M155 213h0M114 208h0M135 238h0M105 198h0M167 237h0M83 27h0M74 92h0M139 217h0M133 171h0M105 189h0M160 203h0M144 208h0M95 39h0M57 82h0M84 99h0M105 100h0M78 55h0M117 211h0M165 190h0M82 160h0M77 65h0M138 190h0M109 204h0M86 164h0M157 175h0M94 102h0M96 51h0M135 133h0M107 146h0M128 226h0M180 207h0M79 57h0M79 20h0M140 204h0M94 52h0M81 53h0M141 178h0M181 238h0M64 8h0M97 45h0M58 92h0M43 43h0M48 32h0M155 223h0M119 149h0M106 171h0M158 231h0M53 9h0M129 157h0M178 214h0M36 33h0M108 155h0M75 79h0M90 28h0M99 137h0M136 236h0M39 57h0M175 248h0M115 174h0M76 12h0M65 69h0M149 176h0M34 21h0M98 40h0M59 40h0M99 134h0M102 193h0M62 59h0M99 163h0M98 120h0M120 185h0M151 165h0M194 238h0M59 61h0M123 131h0M94 169h0M101 45h0M118 143h0M50 64h0M133 148h0M42 9h0M111 135h0M45 65h0M147 202h0M99 134h0M122 170h0M163 194h0M68 58h0M55 96h0M157 178h0M63 9h0M174 248h0M52 87h0M89 108h0M76 19h0M55 27h0M103 181h0M50 52h0M76 109h0M68 77h0M64 82h0M76 44h0M98 181h0M104 124h0M123 180h0M100 115h0M118 162h0M85 22h0M49 31h0M57 48h0M112 88h0M75 120h0M61 108h0M101 92h0M44 61h0M109 161h0M194 249h0M66 89h0M120 104h0M65 94h0M113 181h0M211 249h0M102 180h0M64 79h0M128 169h0M139 192h0M156 203h0M111 131h0M40 6h0M75 132h0M150 227h0M146 182h0M73 54h0M109 157h0M55 59h0M62 83h0M51 47h0M171 243h0M96 110h0M156 231h0M113 78h0M163 186h0M51 95h0M90 123h0M135 234h0M152 198h0M100 100h0M69 19h0M28 19h0M44 45h0M152 170h0M104 67h0M58 49h0M96 186h0M135 172h0M115 200h0M93 102h0M51 48h0M143 184h0M144 228h0M80 96h0M143 204h0M119 217h0" fill="none" stroke="#2a822e" stroke-width="1.7" stroke-linecap="round" stroke-opacity="0.65"/>
<path d="M101 66h0M120 120h0M60 39h0M46 51h0M93 45h0M122 198h0M152 244h0M70 119h0M56 39h0M140 192h0M146 243h0M64 36h0M168 233h0M88 145h0M107 177h0M199 246h0M99 168h0M75 40h0M35 25h0M87 131h0M73 43h0M63 27h0M127 204h0M95 176h0M177 218h0M209 250h0M147 243h0M132 124h0M101 131h0M68 73h0M107 179h0M124 185h0M118 93h0M65 63h0M98 13h0M133 170h0M125 180h0M111 82h0M60 44h0M106 151h0" fill="none" stroke="#903030" stroke-width="2.2" stroke-linecap="round" stroke-opacity="0.55"/>
<path d="M92 172h0M61 10h0M66 82h0M100 111h0M92 156h0M81 26h0M100 33h0M116 105h0M101 185h0M63 48h0M49 81h0M138 157h0M99 115h0M115 209h0M135 217h0M93 21h0M83 74h0M115 201h0M69 28h0M139 156h0M106 60h0M181 220h0M65 90h0M129 199h0M40 73h0M67 113h0M139 153h0M109 130h0M52 50h0M61 122h0M115 129h0M144 164h0M120 96h0M171 197h0M65 14h0M87 23h0M58 105h0M108 168h0M120 146h0M140 218h0M90 152h0M105 128h0M160 210h0M64 113h0M80 43h0M71 143h0M85 149h0M101 36h0M38 27h0M110 67h0M149 217h0M60 113h0M130 129h0M101 106h0M58 69h0M62 119h0M123 165h0M104 110h0M107 145h0M188 249h0M174 236h0M42 43h0M69 67h0M144 197h0M149 232h0M100 30h0M173 234h0M163 236h0M116 119h0M89 32h0M58 24h0M86 126h0M151 250h0M93 8h0M171 243h0M103 69h0M73 147h0M92 139h0M142 230h0M139 184h0M135 178h0M160 202h0M102 61h0M134 154h0M147 240h0M103 90h0M54 38h0M157 210h0M88 173h0M74 139h0M41 74h0M121 206h0M55 23h0M108 116h0M94 65h0M174 198h0M83 74h0M66 85h0M117 144h0M75 69h0M128 194h0M101 35h0M180 232h0M86 132h0M116 120h0M158 220h0M68 97h0M145 224h0M96 108h0M127 115h0M54 90h0M115 137h0M29 21h0M140 166h0M149 166h0M85 62h0M88 56h0M139 191h0M164 193h0M116 185h0M94 29h0M52 29h0M91 84h0M59 67h0M45 42h0M155 217h0M85 139h0M149 205h0M77 64h0M130 131h0M66 9h0M88 35h0M46 57h0M111 111h0M98 101h0M117 151h0M72 9h0M90 19h0M171 201h0M104 62h0M148 247h0M69 89h0M90 113h0M57 80h0M54 69h0M48 58h0M105 192h0M123 103h0M65 49h0M76 57h0" fill="none" stroke="#1e1eae" stroke-width="3" stroke-linecap="round" stroke-opacity="0.72"/>
<path d="M130 82h0M59 73h0M66 87h0M187 198h0M165 222h0M154 28h0M11 41h0M61 133h0M194 147h0M101 61h0M232 189h0M81 12h0M232 64h0M200 29h0M154 89h0M210 75h0M24 50h0M190 246h0M152 171h0M67 68h0M20 247h0M10 154h0M83 47h0M103 234h0M58 41h0M149 165h0M121 45h0M206 28h0M41 61h0M121 120h0M131 182h0M211 118h0M10 209h0M4 80h0M34 151h0M185 32h0M69 214h0M163 27h0M162 199h0M96 39h0M156 80h0M32 41h0M95 32h0M91 138h0M130 101h0M189 22h0M78 234h0M204 231h0M181 134h0M186 144h0M28 64h0M23 220h0M76 102h0M127 25h0M167 200h0M188 221h0M75 37h0M180 174h0M88 86h0M36 209h0M109 204h0M80 81h0M121 187h0M208 89h0M164 101h0M203 191h0M131 91h0M65 222h0M189 77h0M20 49h0M228 10h0M191 133h0M131 135h0M97 140h0M21 231h0M24 35h0M159 161h0M190 174h0M220 13h0M3 59h0M184 38h0M125 193h0M37 132h0M213 188h0M94 120h0M66 241h0M185 171h0M72 184h0M115 200h0M86 221h0M162 113h0M133 202h0M125 241h0M2 225h0M169 123h0M201 37h0M80 179h0M194 94h0M235 163h0M11 31h0M18 143h0M76 66h0M106 20h0M215 210h0M132 112h0M73 151h0M82 245h0M226 182h0M195 19h0M29 87h0M30 106h0M233 209h0M226 56h0M52 6h0M65 14h0M125 75h0M159 141h0M141 75h0M173 173h0M169 118h0M109 72h0M9 117h0M145 47h0M203 221h0M201 205h0M115 44h0M64 185h0M232 28h0M1 89h0M82 150h0M27 212h0M80 228h0M78 77h0M41 242h0M139 207h0M15 136h0M173 247h0M221 26h0M88 251h0M126 240h0M60 6h0M223 66h0M132 91h0M136 234h0M223 220h0M61 206h0M4 105h0M223 64h0M87 146h0M56 178h0M154 24h0M217 18h0M164 87h0M34 20h0M235 201h0M108 199h0M229 233h0M126 69h0M122 246h0M172 168h0M199 103h0M132 213h0M47 216h0M6 135h0M136 37h0M218 110h0M44 103h0M140 108h0M1 23h0M168 33h0M60 203h0M203 221h0M41 1h0M178 150h0M86 5h0M102 60h0M139 246h0M49 19h0M164 27h0M53 110h0M233 81h0M75 119h0M38 101h0M165 81h0M188 46h0M24 157h0M107 230h0M25 187h0M158 93h0M30 154h0M179 119h0M112 172h0M144 106h0M44 116h0M130 225h0M235 140h0M78 56h0M149 185h0M58 173h0M236 98h0M222 110h0M154 218h0M48 87h0M232 16h0M72 120h0M176 158h0M219 168h0M0 18h0M9 108h0M6 132h0M149 51h0M202 104h0M227 90h0M146 136h0M62 196h0M1 63h0M76 221h0M118 9h0M71 153h0M191 27h0M184 98h0M124 106h0M103 249h0M217 230h0M174 176h0M33 9h0M196 169h0M149 78h0M63 231h0M126 5h0M80 88h0M16 245h0M213 205h0M1 105h0M26 182h0M191 198h0M187 30h0M3 23h0M199 208h0M122 59h0M202 30h0M77 0h0M232 104h0M182 201h0M137 248h0M183 233h0M227 21h0M177 57h0M77 86h0M233 15h0M103 32h0M235 125h0M166 131h0M181 84h0M98 187h0M166 223h0M73 213h0M174 144h0M96 142h0M18 24h0M73 31h0M12 180h0M173 155h0M49 181h0M195 155h0M54 142h0M93 68h0M35 217h0M149 234h0M41 66h0M120 15h0M71 136h0M114 228h0M136 160h0M138 197h0M86 0h0M231 199h0M30 28h0M52 165h0M31 5h0M117 2h0M61 96h0M48 1h0M61 61h0M77 104h0M85 81h0M5 210h0M174 124h0M1 59h0M213 115h0M48 206h0M210 31h0M118 141h0M28 80h0M146 169h0M148 156h0M89 17h0M4 210h0M204 227h0M18 193h0M41 87h0M47 216h0M193 209h0M90 235h0M61 144h0M159 59h0M90 25h0M188 46h0M32 70h0M151 160h0M124 214h0M178 53h0M126 43h0M57 37h0M18 88h0M209 165h0M21 55h0M140 133h0M6 24h0M134 151h0M19 194h0M57 148h0M125 85h0M223 99h0M100 136h0M198 248h0M182 135h0M169 160h0M226 244h0M179 54h0M134 110h0M55 196h0M52 178h0M115 107h0M167 182h0M234 251h0M189 66h0M158 124h0M222 112h0M84 6h0" fill="none" stroke="#166019" stroke-width="1.2" stroke-linecap="round" stroke-opacity="0.70"/>
<path d="M111 134h0M73 26h0M114 18h0M41 111h0M82 126h0M125 98h0M32 5h0M132 244h0M66 88h0M75 186h0M116 200h0M1 33h0M49 93h0M94 97h0M228 110h0M136 242h0M151 149h0M195 84h0M8 240h0M126 146h0M16 187h0M88 161h0M67 230h0M87 69h0M211 56h0M64 122h0M231 29h0M50 200h0M18 104h0M185 179h0M187 29h0M210 90h0M192 118h0M210 120h0M61 38h0M117 13h0M39 220h0M135 217h0M36 121h0M111 27h0M62 231h0M171 128h0M144 216h0M225 149h0M12 219h0M39 60h0M32 129h0M137 116h0M111 35h0M169 135h0M73 209h0M222 232h0M232 17h0M92 113h0M61 187h0M214 35h0M119 243h0M210 113h0M25 115h0M122 197h0" fill="none" stroke="#1a1acc" stroke-width="2.5" stroke-linecap="round" stroke-opacity="0.85"/>
</g>
<line x1="202" y1="239" x2="229.5" y2="239" stroke="#e8e8e8" stroke-width="1.1"/>
<text x="215.6" y="236.2" text-anchor="middle" style="font-family:Liberation Sans,sans-serif;font-weight:400;fill:#e8e8e8" font-size="5.6">50 µm</text>
</g>
<g transform="translate(105.4 2008.1)" clip-path="url(#ck)">
<rect x="0" y="0" width="236.6" height="251.3" fill="#1f2010"/>
<g filter="url(#b8)">
<rect x="-10" y="-10" width="256.6" height="24" fill="#050404"/>
<rect x="-10" y="214" width="256.6" height="60" fill="#232c10"/>
<path d="M-10.0 140.0C1.7 140.3 36.7 140.0 60.0 142.0C83.3 144.0 106.7 149.7 130.0 152.0C153.3 154.3 180.0 156.3 200.0 156.0C220.0 155.7 241.7 151.0 250.0 150.0" fill="none" stroke="#14200c" stroke-width="30" stroke-opacity="0.90"/>
<path d="M-10.0 114.0C1.7 115.2 38.3 119.5 60.0 121.0C81.7 122.5 98.3 123.7 120.0 123.0C141.7 122.3 168.3 118.7 190.0 117.0C211.7 115.3 240.0 113.7 250.0 113.0" fill="none" stroke="#1a1a8c" stroke-width="25" stroke-opacity="0.90"/>
<path d="M-10.0 166.0C0.0 168.3 30.0 174.5 50.0 180.0C70.0 185.5 88.3 194.2 110.0 199.0C131.7 203.8 156.7 207.2 180.0 209.0C203.3 210.8 238.3 209.8 250.0 210.0" fill="none" stroke="#1a1a98" stroke-width="36" stroke-opacity="0.90"/>
<path d="M95.0 203.0C104.2 203.8 132.5 207.5 150.0 208.0C167.5 208.5 183.3 207.0 200.0 206.0C216.7 205.0 241.7 202.7 250.0 202.0" fill="none" stroke="#9a4034" stroke-width="26" stroke-opacity="0.60"/>
<path d="M-10.0 131.0C1.7 132.0 38.3 135.5 60.0 137.0C81.7 138.5 98.3 140.5 120.0 140.0C141.7 139.5 168.3 136.0 190.0 134.0C211.7 132.0 240.0 129.0 250.0 128.0" fill="none" stroke="#9a3a24" stroke-width="5" stroke-opacity="0.65"/>
<path d="M130.0 16.0C140.0 16.5 170.0 19.0 190.0 19.0C210.0 19.0 240.0 16.5 250.0 16.0" fill="none" stroke="#8a2a20" stroke-width="3" stroke-opacity="0.22"/>
</g>
<rect x="0" y="0" width="236.6" height="251.3" filter="url(#grain)"/>
<g filter="url(#b05)">
<path d="M76 144h0M233 131h0M160 135h0M187 151h0M221 141h0M212 141h0M49 134h0M55 149h0M231 148h0M180 132h0M141 157h0M59 159h0M127 146h0M203 165h0M64 135h0M50 143h0M165 178h0M230 173h0M64 170h0M189 154h0M235 160h0M63 141h0M65 161h0M162 173h0M42 130h0M231 143h0M92 173h0M62 170h0M216 158h0M159 130h0" fill="none" stroke="#b84a2a" stroke-width="3.1" stroke-linecap="round" stroke-opacity="0.75"/>
<path d="M143 171h0M182 159h0M27 126h0M154 109h0M25 129h0M188 163h0M84 211h0M137 127h0M133 198h0M87 150h0M136 214h0M151 121h0M137 137h0M112 182h0M5 158h0M74 169h0M194 154h0M149 133h0M60 159h0M126 126h0M181 157h0M84 129h0M197 204h0M221 129h0M17 173h0M6 198h0M160 139h0M104 179h0M38 142h0M186 178h0M138 112h0M51 130h0M7 174h0M135 206h0M131 206h0M111 160h0M66 153h0M221 156h0M1 141h0M47 172h0M120 155h0M219 188h0M21 104h0M165 169h0M154 158h0M8 152h0M197 169h0M10 114h0M214 163h0M39 181h0M218 199h0M152 193h0M21 153h0M191 139h0M34 200h0M166 101h0M15 164h0M225 171h0M207 112h0M136 121h0M78 117h0M109 105h0M155 174h0M214 188h0M18 200h0M128 208h0M116 109h0M166 120h0M232 162h0M213 157h0M77 176h0M168 153h0M65 148h0M169 126h0M37 156h0M155 108h0M64 212h0M63 189h0M72 110h0M115 200h0M183 106h0M166 171h0M114 176h0M123 121h0M164 115h0M73 198h0M134 159h0M168 157h0M91 164h0M5 140h0" fill="none" stroke="#2424b8" stroke-width="2.8" stroke-linecap="round" stroke-opacity="0.50"/>
<path d="M9 250h0M214 233h0M37 243h0M67 240h0M154 230h0M175 213h0M197 227h0M179 242h0M60 221h0M85 204h0M207 234h0M116 227h0M208 203h0M84 234h0M126 225h0M61 211h0M158 217h0M221 245h0M229 214h0M121 205h0M85 204h0M118 248h0M180 218h0M65 247h0M12 242h0M202 203h0M224 232h0M92 221h0M144 226h0M205 245h0M77 200h0M184 232h0M155 204h0M18 245h0M86 224h0M230 210h0M150 203h0M132 237h0M37 238h0M229 241h0" fill="none" stroke="#1c1cb0" stroke-width="2.6" stroke-linecap="round" stroke-opacity="0.75"/>
<path d="M187 96h0M169 64h0M195 85h0M148 74h0M42 47h0M77 89h0M184 43h0M235 25h0M15 46h0M18 96h0M85 51h0M202 63h0M149 55h0M109 97h0M65 62h0M113 31h0M35 61h0M188 55h0M14 95h0M32 91h0M11 72h0M34 41h0M99 80h0M103 53h0M95 62h0M66 96h0M45 31h0M129 48h0M170 23h0M160 49h0M219 44h0M102 45h0M126 42h0M158 53h0M167 43h0M108 65h0M170 72h0M101 27h0M26 32h0M43 35h0" fill="none" stroke="#16168a" stroke-width="2.4" stroke-linecap="round" stroke-opacity="0.50"/>
</g>
<rect x="0" y="0" width="236.6" height="251.3" fill="#020204" fill-opacity="0.12"/>
<line x1="202" y1="239" x2="229.5" y2="239" stroke="#e8e8e8" stroke-width="1.1"/>
<text x="215.6" y="236.2" text-anchor="middle" style="font-family:Liberation Sans,sans-serif;font-weight:400;fill:#e8e8e8" font-size="5.6">50 µm</text>
</g>
<g transform="translate(366.8 2008.1)" clip-path="url(#ck)">
<rect x="0" y="0" width="236.6" height="251.3" fill="#0a1612"/>
<g filter="url(#b8)">
<path d="M-10 -10 L250 -10 L250 95 L170 80 L90 55 L-10 50Z" fill="#123a16"/>
<path d="M140 -10 L250 -10 L250 90 L185 68Z" fill="#1f6a22" fill-opacity="0.85"/>
<path d="M-10.0 64.0C1.7 65.3 36.7 68.7 60.0 72.0C83.3 75.3 106.7 80.7 130.0 84.0C153.3 87.3 180.0 90.7 200.0 92.0C220.0 93.3 241.7 92.0 250.0 92.0" fill="none" stroke="#17178a" stroke-width="22" stroke-opacity="0.92"/>
<path d="M-10.0 100.0C1.7 102.0 36.7 107.8 60.0 112.0C83.3 116.2 106.7 120.7 130.0 125.0C153.3 129.3 180.0 135.5 200.0 138.0C220.0 140.5 241.7 139.7 250.0 140.0" fill="none" stroke="#10331a" stroke-width="38" stroke-opacity="0.90"/>
<path d="M-10.0 142.0C1.7 145.7 36.7 158.0 60.0 164.0C83.3 170.0 106.7 174.0 130.0 178.0C153.3 182.0 180.0 185.7 200.0 188.0C220.0 190.3 241.7 191.3 250.0 192.0" fill="none" stroke="#1a1aa4" stroke-width="46" stroke-opacity="0.92"/>
<path d="M60.0 172.0C71.7 174.0 106.7 180.7 130.0 184.0C153.3 187.3 180.0 190.3 200.0 192.0C220.0 193.7 241.7 193.7 250.0 194.0" fill="none" stroke="#5a2688" stroke-width="26" stroke-opacity="0.45"/>
<path d="M-10 205 L100 218 L250 238 L250 262 L-10 262Z" fill="#0a1c34"/>
</g>
<path d="M156 101h0M214 91h0M58 86h0M34 131h0M137 93h0M191 131h0M101 125h0M155 110h0M22 103h0M223 104h0M151 78h0M183 148h0M88 103h0M121 93h0M50 82h0M162 116h0M226 157h0M206 155h0M198 72h0M31 158h0M206 125h0M146 109h0M100 83h0M129 95h0M29 148h0M136 149h0M69 122h0M65 145h0M49 128h0M131 99h0" fill="none" stroke="#c0442a" stroke-width="3" stroke-linecap="round" stroke-opacity="0.85"/>
<path d="M111 39h0M171 65h0M128 15h0M142 64h0M132 51h0M104 7h0M196 40h0M115 38h0M228 31h0M176 34h0M169 3h0M220 46h0M147 23h0M125 75h0M214 30h0M182 44h0M127 3h0M200 13h0M177 1h0M103 13h0M189 49h0M235 53h0M171 1h0M230 39h0M217 3h0M214 38h0M129 32h0M110 46h0M130 56h0M124 55h0M184 57h0M229 24h0M193 32h0M222 66h0M204 48h0M136 73h0M232 76h0M146 66h0M192 67h0M209 36h0M154 64h0M189 43h0M219 3h0M102 37h0M113 67h0M112 71h0M131 11h0M203 54h0M156 48h0M175 76h0M169 43h0M163 33h0M194 9h0M194 74h0M204 43h0M148 8h0M113 43h0M220 69h0M125 60h0M210 38h0M217 15h0M146 41h0M199 36h0M141 69h0M153 34h0M130 39h0M196 29h0M190 39h0M102 77h0M139 44h0M230 17h0M109 16h0M121 68h0M170 3h0M137 41h0M124 25h0M223 36h0M132 48h0M115 42h0M188 7h0M175 25h0M201 49h0M224 49h0M125 15h0M196 65h0M109 33h0M138 37h0M219 45h0M201 61h0M138 49h0M151 38h0M172 53h0M123 67h0M122 25h0M215 79h0M150 76h0M105 76h0M127 3h0M204 13h0M202 1h0M117 29h0M111 38h0M147 59h0M167 77h0M215 14h0M225 72h0M177 42h0M123 26h0M130 16h0M184 26h0M204 46h0M213 7h0M215 41h0M186 19h0M195 32h0M198 47h0M119 24h0M202 1h0M186 44h0M197 26h0M165 38h0M202 6h0M169 21h0M180 21h0M128 19h0M222 29h0M220 59h0M137 44h0M101 75h0M186 9h0M171 40h0M191 23h0M224 50h0M110 65h0M220 24h0M197 69h0M220 6h0M214 20h0M209 55h0M163 72h0" fill="none" stroke="#2c962c" stroke-width="1.4" stroke-linecap="round" stroke-opacity="0.65"/>
<path d="M190 251h0M226 225h0M173 231h0M94 220h0M120 203h0M62 242h0M200 233h0M162 221h0M135 231h0M2 217h0M229 203h0M110 195h0M60 240h0M8 239h0M188 243h0M61 247h0M88 217h0M224 223h0M161 197h0M1 206h0M25 240h0M59 248h0M160 202h0M168 209h0M124 195h0M197 238h0M137 232h0M80 198h0M77 235h0M133 198h0M57 219h0M3 193h0M106 198h0M210 198h0M177 238h0M74 223h0M234 228h0M91 250h0M61 248h0M73 216h0M74 230h0M208 232h0M43 250h0M171 221h0M201 197h0M141 238h0M183 231h0M15 219h0M63 227h0M94 218h0M127 226h0M210 207h0M65 201h0M27 242h0M217 198h0M85 245h0M204 250h0M234 209h0M16 205h0M119 191h0" fill="none" stroke="#1c1cd0" stroke-width="2.6" stroke-linecap="round" stroke-opacity="0.80"/>
<rect x="0" y="0" width="236.6" height="251.3" filter="url(#grain)"/>
<rect x="0" y="0" width="236.6" height="251.3" fill="#020204" fill-opacity="0.18"/>
<line x1="202" y1="239" x2="229.5" y2="239" stroke="#e8e8e8" stroke-width="1.1"/>
<text x="215.6" y="236.2" text-anchor="middle" style="font-family:Liberation Sans,sans-serif;font-weight:400;fill:#e8e8e8" font-size="5.6">50 µm</text>
</g>
</g>
<g><!-- m -->
<text x="729" y="1715.1" font-size="55">m</text>
<text transform="translate(870.3 1987.3) scale(0.940 1) rotate(-90)" text-anchor="middle" font-size="38.7">PHB2 mRNA level (fold)</text>
<path d="M1005.3 2218.8L1005.3 1878.3L1081.8 1878.3L1081.8 2218.8" fill="#fff" stroke="#000" stroke-width="6.3" stroke-linejoin="miter"/>
<path d="M1130.8 2218.8L1130.8 2080L1208.5 2080L1208.5 2218.8" fill="#93c1fa" stroke="#000" stroke-width="6.3" stroke-linejoin="miter"/>
<line x1="960.1" y1="1757.7" x2="960.1" y2="2221" stroke="#000" stroke-width="4.4"/>
<line x1="941.1" y1="1759.9" x2="960.1" y2="1759.9" stroke="#000" stroke-width="4.4"/>
<text transform="translate(935.8 1773.8) scale(0.940 1)" text-anchor="end" font-size="38.7">1.2</text>
<line x1="941.1" y1="1875.2" x2="960.1" y2="1875.2" stroke="#000" stroke-width="4.4"/>
<text transform="translate(935.8 1889.1) scale(0.940 1)" text-anchor="end" font-size="38.7">1.0</text>
<line x1="941.1" y1="1990.1" x2="960.1" y2="1990.1" stroke="#000" stroke-width="4.4"/>
<text transform="translate(935.8 2004) scale(0.940 1)" text-anchor="end" font-size="38.7">0.8</text>
<line x1="941.1" y1="2104.6" x2="960.1" y2="2104.6" stroke="#000" stroke-width="4.4"/>
<text transform="translate(935.8 2118.5) scale(0.940 1)" text-anchor="end" font-size="38.7">0.6</text>
<line x1="941.1" y1="2218.8" x2="960.1" y2="2218.8" stroke="#000" stroke-width="4.4"/>
<text transform="translate(935.8 2232.7) scale(0.940 1)" text-anchor="end" font-size="38.7">0.4</text>
<line x1="940.9" y1="2218.8" x2="1255.1" y2="2218.8" stroke="#000" stroke-width="4.4"/>
<line x1="1043.4" y1="2218.8" x2="1043.4" y2="2238.7" stroke="#000" stroke-width="4.4"/>
<line x1="1169.7" y1="2218.8" x2="1169.7" y2="2238.7" stroke="#000" stroke-width="4.4"/>
<line x1="1043.7" y1="1848.8" x2="1043.7" y2="1901.5" stroke="#000" stroke-width="2"/>
<line x1="1022.7" y1="1848.8" x2="1064.7" y2="1848.8" stroke="#000" stroke-width="2"/>
<line x1="1022.7" y1="1901.5" x2="1064.7" y2="1901.5" stroke="#000" stroke-width="2"/>
<line x1="1169.7" y1="2046.3" x2="1169.7" y2="2107.5" stroke="#000" stroke-width="2"/>
<line x1="1148.7" y1="2046.3" x2="1190.7" y2="2046.3" stroke="#000" stroke-width="2"/>
<line x1="1148.7" y1="2107.5" x2="1190.7" y2="2107.5" stroke="#000" stroke-width="2"/>
<circle cx="1043.7" cy="1845.6" r="6.8" fill="#000"/>
<circle cx="1034.8" cy="1881.2" r="6.8" fill="#000"/>
<circle cx="1051.9" cy="1898.3" r="6.8" fill="#000"/>
<circle cx="1170" cy="2041.6" r="6.8" fill="#000"/>
<circle cx="1160.8" cy="2092.9" r="6.8" fill="#000"/>
<circle cx="1177.8" cy="2095" r="6.8" fill="#000"/>
<line x1="1041.9" y1="1814.7" x2="1179.3" y2="1814.7" stroke="#000" stroke-width="7"/>
<text x="1115.2" y="1804.5" text-anchor="middle" font-size="39.6" style="font-family:DejaVu Sans,Liberation Sans,sans-serif;stroke:#000;stroke-width:1.3px;stroke-linejoin:round;" letter-spacing="5.6">***</text>
<text transform="translate(1038.7 2277.7) scale(0.940 1)" text-anchor="middle" font-size="38.7">CON</text>
<text transform="translate(1170 2277.7) scale(0.940 1)" text-anchor="middle" font-size="38.7">DE</text>
</g>
<g><!-- n-blot -->
<text transform="translate(1584.9 1685.2) scale(0.920 1)" text-anchor="middle" font-size="19.5">WT</text>
<text transform="translate(1809.9 1685.2) scale(0.920 1)" text-anchor="middle" font-size="19.5">DE</text>
<line x1="1474.9" y1="1695.3" x2="1680.7" y2="1695.3" stroke="#111" stroke-width="1.4"/>
<line x1="1708.7" y1="1695.3" x2="1915.5" y2="1695.3" stroke="#111" stroke-width="1.4"/>
<text x="1470.3" y="1731.4" text-anchor="end" font-size="19.4">33 kD-</text>
<text x="1472" y="1803.3" text-anchor="end" font-size="19.4">42 kD-</text>
<text x="1948" y="1734.8" font-size="20.2">PHB2</text>
<text x="1947" y="1809" font-size="19">β-actin</text>
<rect x="1474.4" y="1703.6" width="464.3" height="54.8" fill="url(#gb1)"/>
<rect x="1474.4" y="1703.6" width="464.3" height="54.8" fill="url(#gv1)"/>
<g filter="url(#b2)">
<rect x="1491.8" y="1726.2" width="44.8" height="6.1" rx="3.0" fill="#1e1e1e" fill-opacity="0.92"/>
<ellipse cx="1519.9" cy="1729.5" rx="14.2" ry="3.8" fill="#1e1e1e" fill-opacity="0.74"/>
<rect x="1563.3" y="1725.9" width="55.6" height="6.9" rx="3.5" fill="#0e0e0e" fill-opacity="0.96"/>
<ellipse cx="1598.0" cy="1729.7" rx="17.4" ry="4.3" fill="#0e0e0e" fill-opacity="0.77"/>
<rect x="1642.8" y="1726.5" width="52.9" height="7.1" rx="3.6" fill="#0e0e0e" fill-opacity="0.96"/>
<ellipse cx="1675.9" cy="1730.3" rx="16.6" ry="4.4" fill="#0e0e0e" fill-opacity="0.77"/>
<rect x="1712.9" y="1726.5" width="59.6" height="5.2" rx="2.6" fill="#6c6c6c" fill-opacity="0.62"/>
<ellipse cx="1750.1" cy="1729.4" rx="18.6" ry="3.2" fill="#6c6c6c" fill-opacity="0.50"/>
<rect x="1799.2" y="1727.4" width="46.1" height="5.5" rx="2.8" fill="#7a7a7a" fill-opacity="0.55"/>
<ellipse cx="1828.1" cy="1730.5" rx="14.6" ry="3.4" fill="#7a7a7a" fill-opacity="0.44"/>
<rect x="1870.6" y="1729.0" width="48.8" height="6.4" rx="3.2" fill="#737373" fill-opacity="0.60"/>
<ellipse cx="1901.2" cy="1732.5" rx="15.4" ry="4.0" fill="#737373" fill-opacity="0.48"/>
</g>
<rect x="1474.4" y="1703.6" width="464.3" height="54.8" fill="none" stroke="#151515" stroke-width="1.4"/>
<rect x="1474.4" y="1775.1" width="464.3" height="57.9" fill="url(#gb2)"/>
<rect x="1474.4" y="1775.1" width="464.3" height="57.9" fill="url(#gv2)"/>
<g filter="url(#b2)">
<rect x="1481.0" y="1806.0" width="51.5" height="6.1" rx="3.0" fill="#1c1c1c" fill-opacity="0.93"/>
<ellipse cx="1513.3" cy="1809.3" rx="16.2" ry="3.8" fill="#1c1c1c" fill-opacity="0.74"/>
<rect x="1557.9" y="1804.6" width="56.9" height="8.7" rx="4.4" fill="#060606" fill-opacity="0.98"/>
<ellipse cx="1593.4" cy="1809.2" rx="17.8" ry="5.4" fill="#060606" fill-opacity="0.78"/>
<rect x="1638.8" y="1805.0" width="58.3" height="8.4" rx="4.2" fill="#080808" fill-opacity="0.98"/>
<ellipse cx="1675.2" cy="1809.5" rx="18.2" ry="5.2" fill="#080808" fill-opacity="0.78"/>
<rect x="1719.6" y="1804.5" width="54.2" height="6.6" rx="3.3" fill="#121212" fill-opacity="0.95"/>
<ellipse cx="1753.5" cy="1808.1" rx="17.0" ry="4.1" fill="#121212" fill-opacity="0.76"/>
<rect x="1797.8" y="1805.4" width="50.2" height="6.9" rx="3.5" fill="#101010" fill-opacity="0.95"/>
<ellipse cx="1829.2" cy="1809.2" rx="15.8" ry="4.3" fill="#101010" fill-opacity="0.76"/>
<rect x="1870.6" y="1805.7" width="51.5" height="7.8" rx="3.9" fill="#121212" fill-opacity="0.95"/>
<ellipse cx="1902.9" cy="1809.9" rx="16.2" ry="4.9" fill="#121212" fill-opacity="0.76"/>
</g>
<g filter="url(#b2)"><ellipse cx="1793.9" cy="1790.7" rx="6" ry="5" fill="#141414" transform="rotate(25 1793.9 1790.7)"/></g>
<rect x="1474.4" y="1775.1" width="464.3" height="57.9" fill="none" stroke="#151515" stroke-width="1.4"/>
</g>
<g><!-- n -->
<text x="1367" y="1691.5" font-size="54.5">n</text>
<text transform="translate(1535.4 2047.5) scale(1.065 1) rotate(-90)" text-anchor="middle" font-size="27.7">The relative expression of PHB2</text>
<path d="M1647.8 2216.3L1647.8 1996.9L1710.3 1996.9L1710.3 2216.3" fill="#fff" stroke="#000" stroke-width="5.3" stroke-linejoin="miter"/>
<path d="M1750.8 2216.3L1750.8 2070.3L1813.4 2070.3L1813.4 2216.3" fill="#93c1fa" stroke="#000" stroke-width="5.3" stroke-linejoin="miter"/>
<line x1="1610.3" y1="1880.6" x2="1610.3" y2="2218.3" stroke="#000" stroke-width="4"/>
<line x1="1595.6" y1="1882.6" x2="1610.3" y2="1882.6" stroke="#000" stroke-width="4"/>
<text transform="translate(1591.2 1892.7) scale(1.065 1)" text-anchor="end" font-size="27.7">1.5</text>
<line x1="1595.6" y1="1994.2" x2="1610.3" y2="1994.2" stroke="#000" stroke-width="4"/>
<text transform="translate(1591.2 2004.3) scale(1.065 1)" text-anchor="end" font-size="27.7">1.0</text>
<line x1="1595.6" y1="2105.1" x2="1610.3" y2="2105.1" stroke="#000" stroke-width="4"/>
<text transform="translate(1591.2 2115.2) scale(1.065 1)" text-anchor="end" font-size="27.7">0.5</text>
<line x1="1595.6" y1="2216.3" x2="1610.3" y2="2216.3" stroke="#000" stroke-width="4"/>
<text transform="translate(1591.2 2226.4) scale(1.065 1)" text-anchor="end" font-size="27.7">0.0</text>
<line x1="1596.2" y1="2216.3" x2="1852" y2="2216.3" stroke="#000" stroke-width="4"/>
<line x1="1678.9" y1="2216.3" x2="1678.9" y2="2230.9" stroke="#000" stroke-width="4"/>
<line x1="1781.9" y1="2216.3" x2="1781.9" y2="2230.9" stroke="#000" stroke-width="4"/>
<line x1="1678.9" y1="1956.8" x2="1678.9" y2="2031.7" stroke="#000" stroke-width="1.8"/>
<line x1="1662.4" y1="1956.8" x2="1695.4" y2="1956.8" stroke="#000" stroke-width="1.8"/>
<line x1="1662.4" y1="2031.7" x2="1695.4" y2="2031.7" stroke="#000" stroke-width="1.8"/>
<line x1="1781.9" y1="2046.9" x2="1781.9" y2="2089.5" stroke="#000" stroke-width="1.8"/>
<line x1="1765.4" y1="2046.9" x2="1798.4" y2="2046.9" stroke="#000" stroke-width="1.8"/>
<line x1="1765.4" y1="2089.5" x2="1798.4" y2="2089.5" stroke="#000" stroke-width="1.8"/>
<circle cx="1679.2" cy="1953.4" r="5.3" fill="#000"/>
<circle cx="1678.9" cy="2004.6" r="5.3" fill="#000"/>
<circle cx="1679.2" cy="2026.5" r="5.3" fill="#000"/>
<circle cx="1781.6" cy="2045" r="5.3" fill="#000"/>
<circle cx="1774.5" cy="2072.4" r="5.3" fill="#000"/>
<circle cx="1788.6" cy="2087.3" r="5.3" fill="#000"/>
<line x1="1681.1" y1="1917.4" x2="1788.6" y2="1917.4" stroke="#000" stroke-width="5.2"/>
<text x="1737" y="1910.9" text-anchor="middle" font-size="30.4" style="font-family:DejaVu Sans,Liberation Sans,sans-serif;stroke:#000;stroke-width:1.3px;stroke-linejoin:round;" letter-spacing="4.3">*</text>
<text transform="translate(1678.1 2259.6) scale(1.065 1)" text-anchor="middle" font-size="27.7">CON</text>
<text transform="translate(1781.2 2259.6) scale(1.065 1)" text-anchor="middle" font-size="27.7">DE</text>
</g>
</svg>
</body>
</html>
